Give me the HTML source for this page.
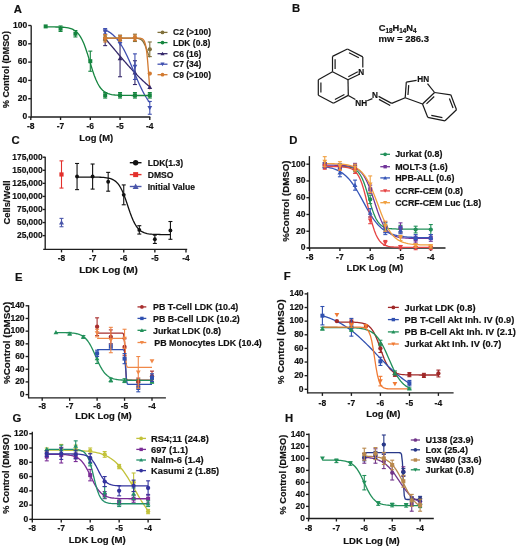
<!DOCTYPE html>
<html><head><meta charset="utf-8"><style>
html,body{margin:0;padding:0;background:#fff;}
svg{display:block;filter:blur(0.35px);}
text{font-family:"Liberation Sans",sans-serif;font-weight:bold;fill:#111;stroke:#111;stroke-width:0.18px;paint-order:stroke;}
</style></head><body>
<svg width="520" height="551" viewBox="0 0 520 551">
<rect width="520" height="551" fill="#fff"/>
<text x="13.7" y="13" font-size="11.3">A</text>
<text x="291.9" y="12" font-size="11.3">B</text>
<text x="11.4" y="143.6" font-size="11.3">C</text>
<text x="289.3" y="143.6" font-size="11.3">D</text>
<text x="14.9" y="281.4" font-size="11.3">E</text>
<text x="283.7" y="280.3" font-size="11.3">F</text>
<text x="12.4" y="421.8" font-size="11.3">G</text>
<text x="284.9" y="421.6" font-size="11.3">H</text>
<line x1="31.2" y1="25.5" x2="31.2" y2="117.65" stroke="#1e1e1e" stroke-width="1.35"/>
<line x1="31.2" y1="117" x2="150.3" y2="117" stroke="#1e1e1e" stroke-width="1.35"/>
<line x1="28.2" y1="117" x2="31.2" y2="117" stroke="#1e1e1e" stroke-width="1.35"/>
<text x="27.2" y="119.3" font-size="8.5" text-anchor="end">0</text>
<line x1="28.2" y1="98.7" x2="31.2" y2="98.7" stroke="#1e1e1e" stroke-width="1.35"/>
<text x="27.2" y="101" font-size="8.5" text-anchor="end">20</text>
<line x1="28.2" y1="80.4" x2="31.2" y2="80.4" stroke="#1e1e1e" stroke-width="1.35"/>
<text x="27.2" y="82.7" font-size="8.5" text-anchor="end">40</text>
<line x1="28.2" y1="62.1" x2="31.2" y2="62.1" stroke="#1e1e1e" stroke-width="1.35"/>
<text x="27.2" y="64.4" font-size="8.5" text-anchor="end">60</text>
<line x1="28.2" y1="43.8" x2="31.2" y2="43.8" stroke="#1e1e1e" stroke-width="1.35"/>
<text x="27.2" y="46.1" font-size="8.5" text-anchor="end">80</text>
<line x1="28.2" y1="25.5" x2="31.2" y2="25.5" stroke="#1e1e1e" stroke-width="1.35"/>
<text x="27.2" y="27.8" font-size="8.5" text-anchor="end">100</text>
<line x1="30.8" y1="117" x2="30.8" y2="120" stroke="#1e1e1e" stroke-width="1.35"/>
<text x="30.8" y="128.8" font-size="8.5" text-anchor="middle">-8</text>
<line x1="60.55" y1="117" x2="60.55" y2="120" stroke="#1e1e1e" stroke-width="1.35"/>
<text x="60.55" y="128.8" font-size="8.5" text-anchor="middle">-7</text>
<line x1="90.3" y1="117" x2="90.3" y2="120" stroke="#1e1e1e" stroke-width="1.35"/>
<text x="90.3" y="128.8" font-size="8.5" text-anchor="middle">-6</text>
<line x1="120.05" y1="117" x2="120.05" y2="120" stroke="#1e1e1e" stroke-width="1.35"/>
<text x="120.05" y="128.8" font-size="8.5" text-anchor="middle">-5</text>
<line x1="149.8" y1="117" x2="149.8" y2="120" stroke="#1e1e1e" stroke-width="1.35"/>
<text x="149.8" y="128.8" font-size="8.5" text-anchor="middle">-4</text>
<text x="96.2" y="141.2" font-size="9.4" text-anchor="middle">Log (M)</text>
<text transform="translate(9 69.5) rotate(-90)" font-size="8.9" text-anchor="middle">% Control (DMSO)</text>
<path d="M105.17 38.48 L105.92 39.35 L106.66 40.22 L107.41 41.09 L108.15 41.97 L108.89 42.84 L109.64 43.72 L110.38 44.61 L111.12 45.49 L111.87 46.38 L112.61 47.26 L113.36 48.15 L114.1 49.04 L114.84 49.92 L115.59 50.81 L116.33 51.7 L117.08 52.58 L117.82 53.47 L118.56 54.35 L119.31 55.23 L120.05 56.11 L120.79 56.98 L121.54 57.86 L122.28 58.73 L123.02 59.6 L123.77 60.46 L124.51 61.32 L125.26 62.18 L126 63.03 L126.74 63.88 L127.49 64.72 L128.23 65.56 L128.97 66.39 L129.72 67.22 L130.46 68.04 L131.21 68.85 L131.95 69.66 L132.69 70.47 L133.44 71.26 L134.18 72.05 L134.93 72.83 L135.67 73.61 L136.41 74.38 L137.16 75.14 L137.9 75.89 L138.64 76.64 L139.39 77.37 L140.13 78.1 L140.88 78.82 L141.62 79.54 L142.36 80.24 L143.11 80.94 L143.85 81.63 L144.59 82.3 L145.34 82.98 L146.08 83.64 L146.83 84.29 L147.57 84.94 L148.31 85.57 L149.06 86.2 L149.8 86.82" fill="none" stroke="#34286a" stroke-width="1.3" stroke-linejoin="round"/>
<path d="M105.17 29.91 L105.92 30.24 L106.66 30.6 L107.41 30.99 L108.15 31.41 L108.89 31.85 L109.64 32.33 L110.38 32.83 L111.12 33.38 L111.87 33.95 L112.61 34.57 L113.36 35.22 L114.1 35.92 L114.84 36.66 L115.59 37.44 L116.33 38.28 L117.08 39.15 L117.82 40.08 L118.56 41.06 L119.31 42.09 L120.05 43.17 L120.79 44.3 L121.54 45.49 L122.28 46.73 L123.02 48.03 L123.77 49.37 L124.51 50.77 L125.26 52.21 L126 53.71 L126.74 55.25 L127.49 56.83 L128.23 58.45 L128.97 60.1 L129.72 61.79 L130.46 63.5 L131.21 65.24 L131.95 67 L132.69 68.76 L133.44 70.54 L134.18 72.32 L134.93 74.09 L135.67 75.86 L136.41 77.61 L137.16 79.34 L137.9 81.05 L138.64 82.73 L139.39 84.38 L140.13 85.99 L140.88 87.57 L141.62 89.1 L142.36 90.58 L143.11 92.02 L143.85 93.4 L144.59 94.74 L145.34 96.02 L146.08 97.25 L146.83 98.43 L147.57 99.55 L148.31 100.62 L149.06 101.64 L149.8 102.61" fill="none" stroke="#4050b0" stroke-width="1.3" stroke-linejoin="round"/>
<path d="M105.17 38.04 L105.92 38.04 L106.66 38.04 L107.41 38.04 L108.15 38.04 L108.89 38.04 L109.64 38.04 L110.38 38.04 L111.12 38.04 L111.87 38.04 L112.61 38.04 L113.36 38.04 L114.1 38.04 L114.84 38.04 L115.59 38.04 L116.33 38.04 L117.08 38.04 L117.82 38.04 L118.56 38.04 L119.31 38.04 L120.05 38.04 L120.79 38.04 L121.54 38.04 L122.28 38.04 L123.02 38.04 L123.77 38.04 L124.51 38.04 L125.26 38.04 L126 38.04 L126.74 38.04 L127.49 38.04 L128.23 38.04 L128.97 38.04 L129.72 38.04 L130.46 38.05 L131.21 38.05 L131.95 38.06 L132.69 38.07 L133.44 38.08 L134.18 38.1 L134.93 38.13 L135.67 38.17 L136.41 38.23 L137.16 38.3 L137.9 38.41 L138.64 38.56 L139.39 38.77 L140.13 39.06 L140.88 39.46 L141.62 40 L142.36 40.73 L143.11 41.67 L143.85 42.87 L144.59 44.34 L145.34 46.07 L146.08 48.01 L146.83 50.07 L147.57 52.13 L148.31 54.07 L149.06 55.8 L149.8 57.27" fill="none" stroke="#80703c" stroke-width="1.3" stroke-linejoin="round"/>
<path d="M105.17 38.04 L105.92 38.04 L106.66 38.04 L107.41 38.04 L108.15 38.04 L108.89 38.04 L109.64 38.04 L110.38 38.04 L111.12 38.04 L111.87 38.04 L112.61 38.04 L113.36 38.04 L114.1 38.04 L114.84 38.04 L115.59 38.04 L116.33 38.04 L117.08 38.04 L117.82 38.04 L118.56 38.04 L119.31 38.04 L120.05 38.04 L120.79 38.04 L121.54 38.04 L122.28 38.04 L123.02 38.04 L123.77 38.04 L124.51 38.04 L125.26 38.04 L126 38.04 L126.74 38.04 L127.49 38.04 L128.23 38.04 L128.97 38.04 L129.72 38.04 L130.46 38.04 L131.21 38.04 L131.95 38.04 L132.69 38.04 L133.44 38.04 L134.18 38.04 L134.93 38.04 L135.67 38.04 L136.41 38.05 L137.16 38.06 L137.9 38.07 L138.64 38.1 L139.39 38.14 L140.13 38.21 L140.88 38.33 L141.62 38.52 L142.36 38.85 L143.11 39.4 L143.85 40.3 L144.59 41.76 L145.34 44.1 L146.08 47.71 L146.83 53.03 L147.57 60.34 L148.31 69.45 L149.06 79.56 L149.8 89.41" fill="none" stroke="#d27a30" stroke-width="1.3" stroke-linejoin="round"/>
<path d="M45.67 26.89 L47.41 26.89 L49.15 26.9 L50.88 26.91 L52.62 26.92 L54.35 26.95 L56.09 26.98 L57.82 27.02 L59.56 27.07 L61.29 27.15 L63.03 27.26 L64.76 27.42 L66.5 27.63 L68.24 27.93 L69.97 28.35 L71.71 28.92 L73.44 29.7 L75.18 30.77 L76.91 32.2 L78.65 34.1 L80.38 36.58 L82.12 39.72 L83.85 43.6 L85.59 48.2 L87.33 53.42 L89.06 59.05 L90.8 64.79 L92.53 70.34 L94.27 75.42 L96 79.84 L97.74 83.52 L99.47 86.49 L101.21 88.81 L102.94 90.58 L104.68 91.91 L106.41 92.89 L108.15 93.62 L109.89 94.14 L111.62 94.52 L113.36 94.8 L115.09 95 L116.83 95.14 L118.56 95.24 L120.3 95.31 L122.03 95.37 L123.77 95.4 L125.5 95.43 L127.24 95.45 L128.97 95.46 L130.71 95.47 L132.45 95.48 L134.18 95.48 L135.92 95.49 L137.65 95.49 L139.39 95.49 L141.12 95.49 L142.86 95.5 L144.59 95.5 L146.33 95.5 L148.06 95.5 L149.8 95.5" fill="none" stroke="#15853f" stroke-width="1.3" stroke-linejoin="round"/>
<line x1="105.17" y1="30.99" x2="105.17" y2="45.63" stroke="#34286a" stroke-width="1.1"/>
<line x1="103.17" y1="30.99" x2="107.17" y2="30.99" stroke="#34286a" stroke-width="1.1"/>
<line x1="103.17" y1="45.63" x2="107.17" y2="45.63" stroke="#34286a" stroke-width="1.1"/>
<path d="M105.17 36.01L107.58 40.21L102.77 40.21Z" fill="#34286a"/>
<line x1="120.05" y1="40.14" x2="120.05" y2="76.74" stroke="#34286a" stroke-width="1.1"/>
<line x1="118.05" y1="40.14" x2="122.05" y2="40.14" stroke="#34286a" stroke-width="1.1"/>
<line x1="118.05" y1="76.74" x2="122.05" y2="76.74" stroke="#34286a" stroke-width="1.1"/>
<path d="M120.05 56.14L122.45 60.34L117.65 60.34Z" fill="#34286a"/>
<line x1="134.93" y1="60.73" x2="134.93" y2="84.52" stroke="#34286a" stroke-width="1.1"/>
<line x1="132.93" y1="60.73" x2="136.93" y2="60.73" stroke="#34286a" stroke-width="1.1"/>
<line x1="132.93" y1="84.52" x2="136.93" y2="84.52" stroke="#34286a" stroke-width="1.1"/>
<path d="M134.93 70.32L137.33 74.52L132.53 74.52Z" fill="#34286a"/>
<path d="M149.8 84.87L152.2 89.07L147.4 89.07Z" fill="#34286a"/>
<line x1="105.17" y1="28.52" x2="105.17" y2="34.01" stroke="#4050b0" stroke-width="1.1"/>
<line x1="103.17" y1="28.52" x2="107.17" y2="28.52" stroke="#4050b0" stroke-width="1.1"/>
<line x1="103.17" y1="34.01" x2="107.17" y2="34.01" stroke="#4050b0" stroke-width="1.1"/>
<path d="M105.17 33.56L107.58 29.36L102.77 29.36Z" fill="#4050b0"/>
<path d="M120.05 46.1L122.45 41.9L117.65 41.9Z" fill="#4050b0"/>
<line x1="134.93" y1="53.86" x2="134.93" y2="79.48" stroke="#4050b0" stroke-width="1.1"/>
<line x1="132.93" y1="53.86" x2="136.93" y2="53.86" stroke="#4050b0" stroke-width="1.1"/>
<line x1="132.93" y1="79.48" x2="136.93" y2="79.48" stroke="#4050b0" stroke-width="1.1"/>
<path d="M134.93 68.97L137.33 64.77L132.53 64.77Z" fill="#4050b0"/>
<line x1="149.8" y1="101.44" x2="149.8" y2="114.25" stroke="#4050b0" stroke-width="1.1"/>
<line x1="147.8" y1="101.44" x2="151.8" y2="101.44" stroke="#4050b0" stroke-width="1.1"/>
<line x1="147.8" y1="114.25" x2="151.8" y2="114.25" stroke="#4050b0" stroke-width="1.1"/>
<path d="M149.8 110.15L152.2 105.95L147.4 105.95Z" fill="#4050b0"/>
<line x1="105.17" y1="35.11" x2="105.17" y2="40.6" stroke="#80703c" stroke-width="1.1"/>
<line x1="103.17" y1="35.11" x2="107.17" y2="35.11" stroke="#80703c" stroke-width="1.1"/>
<line x1="103.17" y1="40.6" x2="107.17" y2="40.6" stroke="#80703c" stroke-width="1.1"/>
<circle cx="105.17" cy="37.85" r="2.16" fill="#80703c"/>
<line x1="120.05" y1="35.11" x2="120.05" y2="40.6" stroke="#80703c" stroke-width="1.1"/>
<line x1="118.05" y1="35.11" x2="122.05" y2="35.11" stroke="#80703c" stroke-width="1.1"/>
<line x1="118.05" y1="40.6" x2="122.05" y2="40.6" stroke="#80703c" stroke-width="1.1"/>
<circle cx="120.05" cy="37.85" r="2.16" fill="#80703c"/>
<line x1="134.93" y1="34.19" x2="134.93" y2="41.51" stroke="#80703c" stroke-width="1.1"/>
<line x1="132.93" y1="34.19" x2="136.93" y2="34.19" stroke="#80703c" stroke-width="1.1"/>
<line x1="132.93" y1="41.51" x2="136.93" y2="41.51" stroke="#80703c" stroke-width="1.1"/>
<circle cx="134.93" cy="37.85" r="2.16" fill="#80703c"/>
<line x1="149.8" y1="41.97" x2="149.8" y2="56.61" stroke="#80703c" stroke-width="1.1"/>
<line x1="147.8" y1="41.97" x2="151.8" y2="41.97" stroke="#80703c" stroke-width="1.1"/>
<line x1="147.8" y1="56.61" x2="151.8" y2="56.61" stroke="#80703c" stroke-width="1.1"/>
<circle cx="149.8" cy="49.29" r="2.16" fill="#80703c"/>
<line x1="105.17" y1="34.65" x2="105.17" y2="41.97" stroke="#d27a30" stroke-width="1.1"/>
<line x1="103.17" y1="34.65" x2="107.17" y2="34.65" stroke="#d27a30" stroke-width="1.1"/>
<line x1="103.17" y1="41.97" x2="107.17" y2="41.97" stroke="#d27a30" stroke-width="1.1"/>
<circle cx="105.17" cy="38.31" r="2.16" fill="#d27a30"/>
<line x1="120.05" y1="35.56" x2="120.05" y2="41.05" stroke="#d27a30" stroke-width="1.1"/>
<line x1="118.05" y1="35.56" x2="122.05" y2="35.56" stroke="#d27a30" stroke-width="1.1"/>
<line x1="118.05" y1="41.05" x2="122.05" y2="41.05" stroke="#d27a30" stroke-width="1.1"/>
<circle cx="120.05" cy="38.31" r="2.16" fill="#d27a30"/>
<line x1="134.93" y1="35.11" x2="134.93" y2="40.6" stroke="#d27a30" stroke-width="1.1"/>
<line x1="132.93" y1="35.11" x2="136.93" y2="35.11" stroke="#d27a30" stroke-width="1.1"/>
<line x1="132.93" y1="40.6" x2="136.93" y2="40.6" stroke="#d27a30" stroke-width="1.1"/>
<circle cx="134.93" cy="37.85" r="2.16" fill="#d27a30"/>
<circle cx="149.8" cy="73.54" r="2.16" fill="#d27a30"/>
<rect x="43.67" y="24.41" width="4" height="4" fill="#15853f"/>
<line x1="60.55" y1="25.96" x2="60.55" y2="31.45" stroke="#15853f" stroke-width="1.1"/>
<line x1="58.55" y1="25.96" x2="62.55" y2="25.96" stroke="#15853f" stroke-width="1.1"/>
<line x1="58.55" y1="31.45" x2="62.55" y2="31.45" stroke="#15853f" stroke-width="1.1"/>
<rect x="58.55" y="26.7" width="4" height="4" fill="#15853f"/>
<line x1="75.42" y1="30.53" x2="75.42" y2="36.94" stroke="#15853f" stroke-width="1.1"/>
<line x1="73.42" y1="30.53" x2="77.42" y2="30.53" stroke="#15853f" stroke-width="1.1"/>
<line x1="73.42" y1="36.94" x2="77.42" y2="36.94" stroke="#15853f" stroke-width="1.1"/>
<rect x="73.42" y="31.73" width="4" height="4" fill="#15853f"/>
<line x1="90.3" y1="51.12" x2="90.3" y2="71.25" stroke="#15853f" stroke-width="1.1"/>
<line x1="88.3" y1="51.12" x2="92.3" y2="51.12" stroke="#15853f" stroke-width="1.1"/>
<line x1="88.3" y1="71.25" x2="92.3" y2="71.25" stroke="#15853f" stroke-width="1.1"/>
<rect x="88.3" y="59.18" width="4" height="4" fill="#15853f"/>
<line x1="105.17" y1="92.57" x2="105.17" y2="98.06" stroke="#15853f" stroke-width="1.1"/>
<line x1="103.17" y1="92.57" x2="107.17" y2="92.57" stroke="#15853f" stroke-width="1.1"/>
<line x1="103.17" y1="98.06" x2="107.17" y2="98.06" stroke="#15853f" stroke-width="1.1"/>
<rect x="103.17" y="93.31" width="4" height="4" fill="#15853f"/>
<line x1="120.05" y1="92.57" x2="120.05" y2="98.06" stroke="#15853f" stroke-width="1.1"/>
<line x1="118.05" y1="92.57" x2="122.05" y2="92.57" stroke="#15853f" stroke-width="1.1"/>
<line x1="118.05" y1="98.06" x2="122.05" y2="98.06" stroke="#15853f" stroke-width="1.1"/>
<rect x="118.05" y="93.31" width="4" height="4" fill="#15853f"/>
<line x1="134.93" y1="92.57" x2="134.93" y2="98.06" stroke="#15853f" stroke-width="1.1"/>
<line x1="132.93" y1="92.57" x2="136.93" y2="92.57" stroke="#15853f" stroke-width="1.1"/>
<line x1="132.93" y1="98.06" x2="136.93" y2="98.06" stroke="#15853f" stroke-width="1.1"/>
<rect x="132.93" y="93.31" width="4" height="4" fill="#15853f"/>
<line x1="149.8" y1="92.57" x2="149.8" y2="98.06" stroke="#15853f" stroke-width="1.1"/>
<line x1="147.8" y1="92.57" x2="151.8" y2="92.57" stroke="#15853f" stroke-width="1.1"/>
<line x1="147.8" y1="98.06" x2="151.8" y2="98.06" stroke="#15853f" stroke-width="1.1"/>
<rect x="147.8" y="93.31" width="4" height="4" fill="#15853f"/>
<line x1="157.5" y1="32.4" x2="167.5" y2="32.4" stroke="#80703c" stroke-width="1.3"/>
<circle cx="162.5" cy="32.4" r="1.84" fill="#80703c"/>
<text x="173" y="35.46" font-size="8.5">C2 (&gt;100)</text>
<line x1="157.5" y1="42.6" x2="167.5" y2="42.6" stroke="#15853f" stroke-width="1.3"/>
<circle cx="162.5" cy="42.6" r="1.84" fill="#15853f"/>
<text x="173" y="45.66" font-size="8.5">LDK (0.8)</text>
<line x1="157.5" y1="53.7" x2="167.5" y2="53.7" stroke="#34286a" stroke-width="1.3"/>
<path d="M162.5 51.75L164.54 55.32L160.46 55.32Z" fill="#34286a"/>
<text x="173" y="56.76" font-size="8.5">C6 (16)</text>
<line x1="157.5" y1="64.2" x2="167.5" y2="64.2" stroke="#4050b0" stroke-width="1.3"/>
<path d="M162.5 66.16L164.54 62.59L160.46 62.59Z" fill="#4050b0"/>
<text x="173" y="67.26" font-size="8.5">C7 (34)</text>
<line x1="157.5" y1="74.7" x2="167.5" y2="74.7" stroke="#d27a30" stroke-width="1.3"/>
<circle cx="162.5" cy="74.7" r="1.84" fill="#d27a30"/>
<text x="173" y="77.76" font-size="8.5">C9 (&gt;100)</text>
<text x="378.7" y="31.2" font-size="9.3">C<tspan font-size="6.4" dy="1.9">18</tspan><tspan dy="-1.9">H</tspan><tspan font-size="6.4" dy="1.9">14</tspan><tspan dy="-1.9">N</tspan><tspan font-size="6.4" dy="1.9">4</tspan></text>
<text x="378.5" y="41.9" font-size="9.5">mw = 286.3</text>
<line x1="347.4" y1="49" x2="362.8" y2="56.9" stroke="#1a1a1a" stroke-width="1.2"/>
<line x1="362.8" y1="56.9" x2="362.8" y2="67.6" stroke="#1a1a1a" stroke-width="1.2"/>
<line x1="359.4" y1="74.2" x2="348" y2="79.8" stroke="#1a1a1a" stroke-width="1.2"/>
<line x1="348" y1="79.8" x2="332.5" y2="71.8" stroke="#1a1a1a" stroke-width="1.2"/>
<line x1="332.5" y1="71.8" x2="332.5" y2="56.4" stroke="#1a1a1a" stroke-width="1.2"/>
<line x1="332.5" y1="56.4" x2="347.4" y2="49" stroke="#1a1a1a" stroke-width="1.2"/>
<line x1="348.99" y1="52.74" x2="358.84" y2="57.79" stroke="#1a1a1a" stroke-width="1.2"/>
<line x1="335.1" y1="59.17" x2="335.1" y2="69.03" stroke="#1a1a1a" stroke-width="1.2"/>
<line x1="357.79" y1="71.69" x2="348.29" y2="76.71" stroke="#1a1a1a" stroke-width="1.2"/>
<text x="361.2" y="74.6" font-size="8.2" text-anchor="middle">N</text>
<line x1="348" y1="79.8" x2="348.3" y2="95.4" stroke="#1a1a1a" stroke-width="1.2"/>
<line x1="348.3" y1="95.4" x2="333.4" y2="103.2" stroke="#1a1a1a" stroke-width="1.2"/>
<line x1="333.4" y1="103.2" x2="318.3" y2="95.2" stroke="#1a1a1a" stroke-width="1.2"/>
<line x1="318.3" y1="95.2" x2="318.3" y2="79.8" stroke="#1a1a1a" stroke-width="1.2"/>
<line x1="318.3" y1="79.8" x2="332.5" y2="71.8" stroke="#1a1a1a" stroke-width="1.2"/>
<line x1="344.41" y1="94.5" x2="334.88" y2="99.49" stroke="#1a1a1a" stroke-width="1.2"/>
<line x1="320.9" y1="92.43" x2="320.9" y2="82.57" stroke="#1a1a1a" stroke-width="1.2"/>
<line x1="348.3" y1="95.4" x2="355.4" y2="99.6" stroke="#1a1a1a" stroke-width="1.2"/>
<text x="361.2" y="106" font-size="8.2" text-anchor="middle">NH</text>
<line x1="367.2" y1="100.8" x2="372.4" y2="98.6" stroke="#1a1a1a" stroke-width="1.2"/>
<text x="375" y="97.8" font-size="8.2" text-anchor="middle">N</text>
<line x1="378.6" y1="96.4" x2="391.7" y2="103.4" stroke="#1a1a1a" stroke-width="1.2"/>
<line x1="379" y1="99.4" x2="390.2" y2="105.5" stroke="#1a1a1a" stroke-width="1.2"/>
<line x1="391.7" y1="103.4" x2="405.2" y2="97.7" stroke="#1a1a1a" stroke-width="1.2"/>
<line x1="405.2" y1="97.7" x2="406.3" y2="82.1" stroke="#1a1a1a" stroke-width="1.2"/>
<line x1="406.3" y1="82.1" x2="416.6" y2="80.4" stroke="#1a1a1a" stroke-width="1.2"/>
<line x1="427.5" y1="83.6" x2="434.6" y2="92.5" stroke="#1a1a1a" stroke-width="1.2"/>
<line x1="434.6" y1="92.5" x2="422.5" y2="104" stroke="#1a1a1a" stroke-width="1.2"/>
<line x1="422.5" y1="104" x2="405.2" y2="97.7" stroke="#1a1a1a" stroke-width="1.2"/>
<line x1="407.99" y1="95.07" x2="408.7" y2="85.09" stroke="#1a1a1a" stroke-width="1.2"/>
<text x="423.2" y="82.2" font-size="8.2" text-anchor="middle">HN</text>
<line x1="434.6" y1="92.5" x2="450.8" y2="94.8" stroke="#1a1a1a" stroke-width="1.2"/>
<line x1="450.8" y1="94.8" x2="456.5" y2="109.8" stroke="#1a1a1a" stroke-width="1.2"/>
<line x1="456.5" y1="109.8" x2="445" y2="120.8" stroke="#1a1a1a" stroke-width="1.2"/>
<line x1="445" y1="120.8" x2="427.7" y2="117.3" stroke="#1a1a1a" stroke-width="1.2"/>
<line x1="427.7" y1="117.3" x2="422.5" y2="104" stroke="#1a1a1a" stroke-width="1.2"/>
<line x1="449.4" y1="98.42" x2="453.04" y2="108.02" stroke="#1a1a1a" stroke-width="1.2"/>
<line x1="442.4" y1="117.62" x2="431.33" y2="115.38" stroke="#1a1a1a" stroke-width="1.2"/>
<line x1="434.21" y1="96.45" x2="426.47" y2="103.81" stroke="#1a1a1a" stroke-width="1.2"/>
<line x1="45.2" y1="156.7" x2="45.2" y2="250.05" stroke="#1e1e1e" stroke-width="1.35"/>
<line x1="43.2" y1="249.4" x2="187.2" y2="249.4" stroke="#1e1e1e" stroke-width="1.35"/>
<line x1="42.7" y1="235.63" x2="45.2" y2="235.63" stroke="#1e1e1e" stroke-width="1.35"/>
<text x="42.6" y="237.93" font-size="8.4" text-anchor="end">25,000</text>
<line x1="42.7" y1="222.56" x2="45.2" y2="222.56" stroke="#1e1e1e" stroke-width="1.35"/>
<text x="42.6" y="224.86" font-size="8.4" text-anchor="end">50,000</text>
<line x1="42.7" y1="209.49" x2="45.2" y2="209.49" stroke="#1e1e1e" stroke-width="1.35"/>
<text x="42.6" y="211.79" font-size="8.4" text-anchor="end">75,000</text>
<line x1="42.7" y1="196.42" x2="45.2" y2="196.42" stroke="#1e1e1e" stroke-width="1.35"/>
<text x="42.6" y="198.72" font-size="8.4" text-anchor="end">100,000</text>
<line x1="42.7" y1="183.35" x2="45.2" y2="183.35" stroke="#1e1e1e" stroke-width="1.35"/>
<text x="42.6" y="185.65" font-size="8.4" text-anchor="end">125,000</text>
<line x1="42.7" y1="170.28" x2="45.2" y2="170.28" stroke="#1e1e1e" stroke-width="1.35"/>
<text x="42.6" y="172.58" font-size="8.4" text-anchor="end">150,000</text>
<line x1="42.7" y1="157.21" x2="45.2" y2="157.21" stroke="#1e1e1e" stroke-width="1.35"/>
<text x="42.6" y="159.51" font-size="8.4" text-anchor="end">175,000</text>
<line x1="61.5" y1="249.4" x2="61.5" y2="252.4" stroke="#1e1e1e" stroke-width="1.35"/>
<text x="61.5" y="261.2" font-size="8.4" text-anchor="middle">-8</text>
<line x1="92.62" y1="249.4" x2="92.62" y2="252.4" stroke="#1e1e1e" stroke-width="1.35"/>
<text x="92.62" y="261.2" font-size="8.4" text-anchor="middle">-7</text>
<line x1="123.74" y1="249.4" x2="123.74" y2="252.4" stroke="#1e1e1e" stroke-width="1.35"/>
<text x="123.74" y="261.2" font-size="8.4" text-anchor="middle">-6</text>
<line x1="154.86" y1="249.4" x2="154.86" y2="252.4" stroke="#1e1e1e" stroke-width="1.35"/>
<text x="154.86" y="261.2" font-size="8.4" text-anchor="middle">-5</text>
<line x1="185.98" y1="249.4" x2="185.98" y2="252.4" stroke="#1e1e1e" stroke-width="1.35"/>
<text x="185.98" y="261.2" font-size="8.4" text-anchor="middle">-4</text>
<text x="108.5" y="273" font-size="9.9" text-anchor="middle">LDK Log (M)</text>
<text transform="translate(10 202.5) rotate(-90)" font-size="9.4" text-anchor="middle">Cells/Well</text>
<path d="M77.06 177.08 L78.62 177.08 L80.17 177.08 L81.73 177.08 L83.28 177.08 L84.84 177.08 L86.4 177.09 L87.95 177.09 L89.51 177.1 L91.06 177.1 L92.62 177.12 L94.18 177.13 L95.73 177.15 L97.29 177.18 L98.84 177.22 L100.4 177.27 L101.96 177.35 L103.51 177.45 L105.07 177.59 L106.62 177.78 L108.18 178.05 L109.74 178.41 L111.29 178.9 L112.85 179.57 L114.4 180.46 L115.96 181.64 L117.52 183.2 L119.07 185.2 L120.63 187.72 L122.18 190.8 L123.74 194.44 L125.3 198.58 L126.85 203.06 L128.41 207.68 L129.96 212.21 L131.52 216.43 L133.08 220.18 L134.63 223.38 L136.19 226 L137.74 228.1 L139.3 229.74 L140.86 230.99 L142.41 231.93 L143.97 232.64 L145.52 233.16 L147.08 233.55 L148.64 233.83 L150.19 234.04 L151.75 234.19 L153.3 234.29 L154.86 234.37 L156.42 234.43 L157.97 234.47 L159.53 234.5 L161.08 234.53 L162.64 234.54 L164.2 234.55 L165.75 234.56 L167.31 234.57 L168.86 234.57 L170.42 234.58" fill="none" stroke="#111" stroke-width="1.3" stroke-linejoin="round"/>
<line x1="77.06" y1="163.48" x2="77.06" y2="189.62" stroke="#111" stroke-width="1.1"/>
<line x1="75.06" y1="163.48" x2="79.06" y2="163.48" stroke="#111" stroke-width="1.1"/>
<line x1="75.06" y1="189.62" x2="79.06" y2="189.62" stroke="#111" stroke-width="1.1"/>
<circle cx="77.06" cy="176.55" r="1.94" fill="#111"/>
<line x1="92.62" y1="164.01" x2="92.62" y2="189.1" stroke="#111" stroke-width="1.1"/>
<line x1="90.62" y1="164.01" x2="94.62" y2="164.01" stroke="#111" stroke-width="1.1"/>
<line x1="90.62" y1="189.1" x2="94.62" y2="189.1" stroke="#111" stroke-width="1.1"/>
<circle cx="92.62" cy="176.55" r="1.94" fill="#111"/>
<line x1="108.18" y1="172.37" x2="108.18" y2="191.19" stroke="#111" stroke-width="1.1"/>
<line x1="106.18" y1="172.37" x2="110.18" y2="172.37" stroke="#111" stroke-width="1.1"/>
<line x1="106.18" y1="191.19" x2="110.18" y2="191.19" stroke="#111" stroke-width="1.1"/>
<circle cx="108.18" cy="181.78" r="1.94" fill="#111"/>
<line x1="123.74" y1="184.92" x2="123.74" y2="204.78" stroke="#111" stroke-width="1.1"/>
<line x1="121.74" y1="184.92" x2="125.74" y2="184.92" stroke="#111" stroke-width="1.1"/>
<line x1="121.74" y1="204.78" x2="125.74" y2="204.78" stroke="#111" stroke-width="1.1"/>
<circle cx="123.74" cy="194.85" r="1.94" fill="#111"/>
<line x1="139.3" y1="225.7" x2="139.3" y2="234.06" stroke="#111" stroke-width="1.1"/>
<line x1="137.3" y1="225.7" x2="141.3" y2="225.7" stroke="#111" stroke-width="1.1"/>
<line x1="137.3" y1="234.06" x2="141.3" y2="234.06" stroke="#111" stroke-width="1.1"/>
<circle cx="139.3" cy="229.88" r="1.94" fill="#111"/>
<line x1="154.86" y1="235.11" x2="154.86" y2="243.47" stroke="#111" stroke-width="1.1"/>
<line x1="152.86" y1="235.11" x2="156.86" y2="235.11" stroke="#111" stroke-width="1.1"/>
<line x1="152.86" y1="243.47" x2="156.86" y2="243.47" stroke="#111" stroke-width="1.1"/>
<circle cx="154.86" cy="239.29" r="1.94" fill="#111"/>
<line x1="170.42" y1="221.51" x2="170.42" y2="239.29" stroke="#111" stroke-width="1.1"/>
<line x1="168.42" y1="221.51" x2="172.42" y2="221.51" stroke="#111" stroke-width="1.1"/>
<line x1="168.42" y1="239.29" x2="172.42" y2="239.29" stroke="#111" stroke-width="1.1"/>
<circle cx="170.42" cy="230.4" r="1.94" fill="#111"/>
<line x1="61.5" y1="160.87" x2="61.5" y2="188.06" stroke="#e3302c" stroke-width="1.1"/>
<line x1="59.5" y1="160.87" x2="63.5" y2="160.87" stroke="#e3302c" stroke-width="1.1"/>
<line x1="59.5" y1="188.06" x2="63.5" y2="188.06" stroke="#e3302c" stroke-width="1.1"/>
<rect x="59.4" y="172.36" width="4.2" height="4.2" fill="#e3302c"/>
<line x1="61.5" y1="218.38" x2="61.5" y2="226.74" stroke="#4a56aa" stroke-width="1.1"/>
<line x1="59.5" y1="218.38" x2="63.5" y2="218.38" stroke="#4a56aa" stroke-width="1.1"/>
<line x1="59.5" y1="226.74" x2="63.5" y2="226.74" stroke="#4a56aa" stroke-width="1.1"/>
<path d="M61.5 220.15L64.02 224.56L58.98 224.56Z" fill="#4a56aa"/>
<line x1="129.8" y1="162.7" x2="141.5" y2="162.7" stroke="#111" stroke-width="1.4"/>
<circle cx="135.65" cy="162.7" r="2.7" fill="#111"/>
<text x="147.7" y="165.8" font-size="8.6">LDK(1.3)</text>
<line x1="129.8" y1="174.6" x2="141.5" y2="174.6" stroke="#e3302c" stroke-width="1.4"/>
<rect x="133.15" y="172.1" width="5" height="5" fill="#e3302c"/>
<text x="147.7" y="177.7" font-size="8.6">DMSO</text>
<line x1="129.8" y1="186.5" x2="141.5" y2="186.5" stroke="#4a56aa" stroke-width="1.4"/>
<path d="M135.65 183.62L138.65 188.88L132.65 188.88Z" fill="#4a56aa"/>
<text x="147.7" y="189.6" font-size="8.6">Initial Value</text>
<line x1="309.4" y1="156.1" x2="309.4" y2="248.65" stroke="#1e1e1e" stroke-width="1.35"/>
<line x1="307.5" y1="248" x2="445.5" y2="248" stroke="#1e1e1e" stroke-width="1.35"/>
<line x1="306.4" y1="248" x2="309.4" y2="248" stroke="#1e1e1e" stroke-width="1.35"/>
<text x="305.4" y="250.3" font-size="8.5" text-anchor="end">0</text>
<line x1="306.4" y1="231.24" x2="309.4" y2="231.24" stroke="#1e1e1e" stroke-width="1.35"/>
<text x="305.4" y="233.54" font-size="8.5" text-anchor="end">20</text>
<line x1="306.4" y1="214.48" x2="309.4" y2="214.48" stroke="#1e1e1e" stroke-width="1.35"/>
<text x="305.4" y="216.78" font-size="8.5" text-anchor="end">40</text>
<line x1="306.4" y1="197.72" x2="309.4" y2="197.72" stroke="#1e1e1e" stroke-width="1.35"/>
<text x="305.4" y="200.02" font-size="8.5" text-anchor="end">60</text>
<line x1="306.4" y1="180.96" x2="309.4" y2="180.96" stroke="#1e1e1e" stroke-width="1.35"/>
<text x="305.4" y="183.26" font-size="8.5" text-anchor="end">80</text>
<line x1="306.4" y1="164.2" x2="309.4" y2="164.2" stroke="#1e1e1e" stroke-width="1.35"/>
<text x="305.4" y="166.5" font-size="8.5" text-anchor="end">100</text>
<line x1="309.6" y1="248" x2="309.6" y2="251" stroke="#1e1e1e" stroke-width="1.35"/>
<text x="309.6" y="259.5" font-size="8.5" text-anchor="middle">-8</text>
<line x1="339.9" y1="248" x2="339.9" y2="251" stroke="#1e1e1e" stroke-width="1.35"/>
<text x="339.9" y="259.5" font-size="8.5" text-anchor="middle">-7</text>
<line x1="370.2" y1="248" x2="370.2" y2="251" stroke="#1e1e1e" stroke-width="1.35"/>
<text x="370.2" y="259.5" font-size="8.5" text-anchor="middle">-6</text>
<line x1="400.5" y1="248" x2="400.5" y2="251" stroke="#1e1e1e" stroke-width="1.35"/>
<text x="400.5" y="259.5" font-size="8.5" text-anchor="middle">-5</text>
<line x1="430.8" y1="248" x2="430.8" y2="251" stroke="#1e1e1e" stroke-width="1.35"/>
<text x="430.8" y="259.5" font-size="8.5" text-anchor="middle">-4</text>
<text x="346.6" y="271.4" font-size="9.5">LDK Log (M)</text>
<text transform="translate(289 201.2) rotate(-90)" font-size="9.7" text-anchor="middle">%Control (DMSO)</text>
<path d="M324.75 166.3 L326.52 166.3 L328.29 166.3 L330.05 166.31 L331.82 166.31 L333.59 166.32 L335.36 166.34 L337.12 166.35 L338.89 166.38 L340.66 166.43 L342.43 166.49 L344.19 166.58 L345.96 166.71 L347.73 166.91 L349.5 167.2 L351.26 167.62 L353.03 168.23 L354.8 169.11 L356.56 170.36 L358.33 172.12 L360.1 174.53 L361.87 177.74 L363.63 181.84 L365.4 186.82 L367.17 192.52 L368.94 198.59 L370.71 204.6 L372.47 210.12 L374.24 214.87 L376.01 218.71 L377.78 221.67 L379.54 223.88 L381.31 225.48 L383.08 226.62 L384.85 227.41 L386.61 227.96 L388.38 228.34 L390.15 228.6 L391.92 228.77 L393.68 228.89 L395.45 228.97 L397.22 229.03 L398.99 229.07 L400.75 229.09 L402.52 229.11 L404.29 229.12 L406.06 229.13 L407.82 229.13 L409.59 229.14 L411.36 229.14 L413.12 229.14 L414.89 229.14 L416.66 229.14 L418.43 229.14 L420.2 229.14 L421.96 229.14 L423.73 229.14 L425.5 229.14 L427.26 229.14 L429.03 229.14 L430.8 229.14" fill="none" stroke="#22905a" stroke-width="1.3" stroke-linejoin="round"/>
<path d="M324.75 165.14 L326.52 165.15 L328.29 165.15 L330.05 165.17 L331.82 165.18 L333.59 165.2 L335.36 165.23 L337.12 165.26 L338.89 165.31 L340.66 165.38 L342.43 165.47 L344.19 165.59 L345.96 165.74 L347.73 165.95 L349.5 166.24 L351.26 166.61 L353.03 167.11 L354.8 167.77 L356.56 168.64 L358.33 169.77 L360.1 171.23 L361.87 173.11 L363.63 175.46 L365.4 178.38 L367.17 181.89 L368.94 186.01 L370.71 190.69 L372.47 195.8 L374.24 201.17 L376.01 206.55 L377.78 211.74 L379.54 216.53 L381.31 220.79 L383.08 224.44 L384.85 227.49 L386.61 229.97 L388.38 231.95 L390.15 233.5 L391.92 234.7 L393.68 235.62 L395.45 236.32 L397.22 236.85 L398.99 237.26 L400.75 237.56 L402.52 237.78 L404.29 237.95 L406.06 238.08 L407.82 238.17 L409.59 238.24 L411.36 238.29 L413.12 238.33 L414.89 238.36 L416.66 238.38 L418.43 238.4 L420.2 238.41 L421.96 238.42 L423.73 238.43 L425.5 238.43 L427.26 238.44 L429.03 238.44 L430.8 238.44" fill="none" stroke="#72369a" stroke-width="1.3" stroke-linejoin="round"/>
<path d="M324.75 166.83 L326.52 167.09 L328.29 167.41 L330.05 167.78 L331.82 168.23 L333.59 168.75 L335.36 169.38 L337.12 170.1 L338.89 170.96 L340.66 171.95 L342.43 173.11 L344.19 174.44 L345.96 175.97 L347.73 177.7 L349.5 179.66 L351.26 181.84 L353.03 184.25 L354.8 186.88 L356.56 189.71 L358.33 192.72 L360.1 195.86 L361.87 199.09 L363.63 202.37 L365.4 205.63 L367.17 208.83 L368.94 211.91 L370.71 214.84 L372.47 217.58 L374.24 220.11 L376.01 222.42 L377.78 224.5 L379.54 226.35 L381.31 227.99 L383.08 229.43 L384.85 230.67 L386.61 231.75 L388.38 232.68 L390.15 233.48 L391.92 234.15 L393.68 234.73 L395.45 235.22 L397.22 235.63 L398.99 235.98 L400.75 236.27 L402.52 236.51 L404.29 236.72 L406.06 236.89 L407.82 237.04 L409.59 237.16 L411.36 237.26 L413.12 237.35 L414.89 237.42 L416.66 237.48 L418.43 237.53 L420.2 237.57 L421.96 237.6 L423.73 237.63 L425.5 237.65 L427.26 237.68 L429.03 237.69 L430.8 237.71" fill="none" stroke="#3656b8" stroke-width="1.3" stroke-linejoin="round"/>
<path d="M324.75 166.55 L326.52 166.56 L328.29 166.56 L330.05 166.57 L331.82 166.58 L333.59 166.6 L335.36 166.62 L337.12 166.66 L338.89 166.71 L340.66 166.78 L342.43 166.89 L344.19 167.04 L345.96 167.27 L347.73 167.6 L349.5 168.07 L351.26 168.74 L353.03 169.7 L354.8 171.06 L356.56 172.96 L358.33 175.57 L360.1 179.05 L361.87 183.55 L363.63 189.15 L365.4 195.74 L367.17 203.04 L368.94 210.62 L370.71 217.94 L372.47 224.55 L374.24 230.18 L376.01 234.71 L377.78 238.22 L379.54 240.85 L381.31 242.77 L383.08 244.14 L384.85 245.11 L386.61 245.79 L388.38 246.27 L390.15 246.6 L391.92 246.83 L393.68 246.98 L395.45 247.09 L397.22 247.17 L398.99 247.22 L400.75 247.25 L402.52 247.28 L404.29 247.29 L406.06 247.3 L407.82 247.31 L409.59 247.32 L411.36 247.32 L413.12 247.32 L414.89 247.33 L416.66 247.33 L418.43 247.33 L420.2 247.33 L421.96 247.33 L423.73 247.33 L425.5 247.33 L427.26 247.33 L429.03 247.33 L430.8 247.33" fill="none" stroke="#e64444" stroke-width="1.3" stroke-linejoin="round"/>
<path d="M324.75 163.6 L326.52 163.62 L328.29 163.64 L330.05 163.67 L331.82 163.71 L333.59 163.76 L335.36 163.82 L337.12 163.89 L338.89 163.99 L340.66 164.11 L342.43 164.26 L344.19 164.46 L345.96 164.7 L347.73 165 L349.5 165.38 L351.26 165.86 L353.03 166.46 L354.8 167.2 L356.56 168.11 L358.33 169.24 L360.1 170.63 L361.87 172.3 L363.63 174.32 L365.4 176.72 L367.17 179.53 L368.94 182.76 L370.71 186.43 L372.47 190.49 L374.24 194.89 L376.01 199.53 L377.78 204.3 L379.54 209.07 L381.31 213.71 L383.08 218.11 L384.85 222.17 L386.61 225.83 L388.38 229.07 L390.15 231.88 L391.92 234.28 L393.68 236.29 L395.45 237.97 L397.22 239.35 L398.99 240.48 L400.75 241.4 L402.52 242.14 L404.29 242.74 L406.06 243.21 L407.82 243.59 L409.59 243.9 L411.36 244.14 L413.12 244.33 L414.89 244.49 L416.66 244.61 L418.43 244.7 L420.2 244.78 L421.96 244.84 L423.73 244.89 L425.5 244.92 L427.26 244.95 L429.03 244.98 L430.8 245" fill="none" stroke="#f0a040" stroke-width="1.3" stroke-linejoin="round"/>
<line x1="324.75" y1="162.52" x2="324.75" y2="167.55" stroke="#22905a" stroke-width="1.1"/>
<line x1="322.75" y1="162.52" x2="326.75" y2="162.52" stroke="#22905a" stroke-width="1.1"/>
<line x1="322.75" y1="167.55" x2="326.75" y2="167.55" stroke="#22905a" stroke-width="1.1"/>
<circle cx="324.75" cy="165.04" r="2.16" fill="#22905a"/>
<line x1="339.9" y1="164.2" x2="339.9" y2="169.23" stroke="#22905a" stroke-width="1.1"/>
<line x1="337.9" y1="164.2" x2="341.9" y2="164.2" stroke="#22905a" stroke-width="1.1"/>
<line x1="337.9" y1="169.23" x2="341.9" y2="169.23" stroke="#22905a" stroke-width="1.1"/>
<circle cx="339.9" cy="166.71" r="2.16" fill="#22905a"/>
<line x1="355.05" y1="166.71" x2="355.05" y2="171.74" stroke="#22905a" stroke-width="1.1"/>
<line x1="353.05" y1="166.71" x2="357.05" y2="166.71" stroke="#22905a" stroke-width="1.1"/>
<line x1="353.05" y1="171.74" x2="357.05" y2="171.74" stroke="#22905a" stroke-width="1.1"/>
<circle cx="355.05" cy="169.23" r="2.16" fill="#22905a"/>
<line x1="370.2" y1="195.21" x2="370.2" y2="203.59" stroke="#22905a" stroke-width="1.1"/>
<line x1="368.2" y1="195.21" x2="372.2" y2="195.21" stroke="#22905a" stroke-width="1.1"/>
<line x1="368.2" y1="203.59" x2="372.2" y2="203.59" stroke="#22905a" stroke-width="1.1"/>
<circle cx="370.2" cy="199.4" r="2.16" fill="#22905a"/>
<line x1="385.35" y1="222.86" x2="385.35" y2="229.56" stroke="#22905a" stroke-width="1.1"/>
<line x1="383.35" y1="222.86" x2="387.35" y2="222.86" stroke="#22905a" stroke-width="1.1"/>
<line x1="383.35" y1="229.56" x2="387.35" y2="229.56" stroke="#22905a" stroke-width="1.1"/>
<circle cx="385.35" cy="226.21" r="2.16" fill="#22905a"/>
<line x1="400.5" y1="225.37" x2="400.5" y2="232.08" stroke="#22905a" stroke-width="1.1"/>
<line x1="398.5" y1="225.37" x2="402.5" y2="225.37" stroke="#22905a" stroke-width="1.1"/>
<line x1="398.5" y1="232.08" x2="402.5" y2="232.08" stroke="#22905a" stroke-width="1.1"/>
<circle cx="400.5" cy="228.73" r="2.16" fill="#22905a"/>
<line x1="415.65" y1="226.21" x2="415.65" y2="232.92" stroke="#22905a" stroke-width="1.1"/>
<line x1="413.65" y1="226.21" x2="417.65" y2="226.21" stroke="#22905a" stroke-width="1.1"/>
<line x1="413.65" y1="232.92" x2="417.65" y2="232.92" stroke="#22905a" stroke-width="1.1"/>
<circle cx="415.65" cy="229.56" r="2.16" fill="#22905a"/>
<line x1="430.8" y1="224.54" x2="430.8" y2="234.59" stroke="#22905a" stroke-width="1.1"/>
<line x1="428.8" y1="224.54" x2="432.8" y2="224.54" stroke="#22905a" stroke-width="1.1"/>
<line x1="428.8" y1="234.59" x2="432.8" y2="234.59" stroke="#22905a" stroke-width="1.1"/>
<circle cx="430.8" cy="229.56" r="2.16" fill="#22905a"/>
<line x1="324.75" y1="162.52" x2="324.75" y2="167.55" stroke="#72369a" stroke-width="1.1"/>
<line x1="322.75" y1="162.52" x2="326.75" y2="162.52" stroke="#72369a" stroke-width="1.1"/>
<line x1="322.75" y1="167.55" x2="326.75" y2="167.55" stroke="#72369a" stroke-width="1.1"/>
<rect x="322.75" y="163.04" width="4" height="4" fill="#72369a"/>
<line x1="339.9" y1="164.2" x2="339.9" y2="169.23" stroke="#72369a" stroke-width="1.1"/>
<line x1="337.9" y1="164.2" x2="341.9" y2="164.2" stroke="#72369a" stroke-width="1.1"/>
<line x1="337.9" y1="169.23" x2="341.9" y2="169.23" stroke="#72369a" stroke-width="1.1"/>
<rect x="337.9" y="164.71" width="4" height="4" fill="#72369a"/>
<line x1="355.05" y1="163.36" x2="355.05" y2="168.39" stroke="#72369a" stroke-width="1.1"/>
<line x1="353.05" y1="163.36" x2="357.05" y2="163.36" stroke="#72369a" stroke-width="1.1"/>
<line x1="353.05" y1="168.39" x2="357.05" y2="168.39" stroke="#72369a" stroke-width="1.1"/>
<rect x="353.05" y="163.88" width="4" height="4" fill="#72369a"/>
<line x1="370.2" y1="185.15" x2="370.2" y2="193.53" stroke="#72369a" stroke-width="1.1"/>
<line x1="368.2" y1="185.15" x2="372.2" y2="185.15" stroke="#72369a" stroke-width="1.1"/>
<line x1="368.2" y1="193.53" x2="372.2" y2="193.53" stroke="#72369a" stroke-width="1.1"/>
<rect x="368.2" y="187.34" width="4" height="4" fill="#72369a"/>
<line x1="385.35" y1="222.02" x2="385.35" y2="232.08" stroke="#72369a" stroke-width="1.1"/>
<line x1="383.35" y1="222.02" x2="387.35" y2="222.02" stroke="#72369a" stroke-width="1.1"/>
<line x1="383.35" y1="232.08" x2="387.35" y2="232.08" stroke="#72369a" stroke-width="1.1"/>
<rect x="383.35" y="225.05" width="4" height="4" fill="#72369a"/>
<line x1="400.5" y1="222.86" x2="400.5" y2="232.92" stroke="#72369a" stroke-width="1.1"/>
<line x1="398.5" y1="222.86" x2="402.5" y2="222.86" stroke="#72369a" stroke-width="1.1"/>
<line x1="398.5" y1="232.92" x2="402.5" y2="232.92" stroke="#72369a" stroke-width="1.1"/>
<rect x="398.5" y="225.89" width="4" height="4" fill="#72369a"/>
<line x1="415.65" y1="236.27" x2="415.65" y2="242.97" stroke="#72369a" stroke-width="1.1"/>
<line x1="413.65" y1="236.27" x2="417.65" y2="236.27" stroke="#72369a" stroke-width="1.1"/>
<line x1="413.65" y1="242.97" x2="417.65" y2="242.97" stroke="#72369a" stroke-width="1.1"/>
<rect x="413.65" y="237.62" width="4" height="4" fill="#72369a"/>
<line x1="430.8" y1="234.59" x2="430.8" y2="241.3" stroke="#72369a" stroke-width="1.1"/>
<line x1="428.8" y1="234.59" x2="432.8" y2="234.59" stroke="#72369a" stroke-width="1.1"/>
<line x1="428.8" y1="241.3" x2="432.8" y2="241.3" stroke="#72369a" stroke-width="1.1"/>
<rect x="428.8" y="235.94" width="4" height="4" fill="#72369a"/>
<line x1="324.75" y1="163.36" x2="324.75" y2="168.39" stroke="#3656b8" stroke-width="1.1"/>
<line x1="322.75" y1="163.36" x2="326.75" y2="163.36" stroke="#3656b8" stroke-width="1.1"/>
<line x1="322.75" y1="168.39" x2="326.75" y2="168.39" stroke="#3656b8" stroke-width="1.1"/>
<path d="M324.75 163.58L327.15 167.78L322.35 167.78Z" fill="#3656b8"/>
<line x1="339.9" y1="168.39" x2="339.9" y2="176.77" stroke="#3656b8" stroke-width="1.1"/>
<line x1="337.9" y1="168.39" x2="341.9" y2="168.39" stroke="#3656b8" stroke-width="1.1"/>
<line x1="337.9" y1="176.77" x2="341.9" y2="176.77" stroke="#3656b8" stroke-width="1.1"/>
<path d="M339.9 170.28L342.3 174.48L337.5 174.48Z" fill="#3656b8"/>
<line x1="355.05" y1="180.12" x2="355.05" y2="190.18" stroke="#3656b8" stroke-width="1.1"/>
<line x1="353.05" y1="180.12" x2="357.05" y2="180.12" stroke="#3656b8" stroke-width="1.1"/>
<line x1="353.05" y1="190.18" x2="357.05" y2="190.18" stroke="#3656b8" stroke-width="1.1"/>
<path d="M355.05 182.85L357.45 187.05L352.65 187.05Z" fill="#3656b8"/>
<line x1="370.2" y1="208.61" x2="370.2" y2="216.99" stroke="#3656b8" stroke-width="1.1"/>
<line x1="368.2" y1="208.61" x2="372.2" y2="208.61" stroke="#3656b8" stroke-width="1.1"/>
<line x1="368.2" y1="216.99" x2="372.2" y2="216.99" stroke="#3656b8" stroke-width="1.1"/>
<path d="M370.2 210.5L372.6 214.7L367.8 214.7Z" fill="#3656b8"/>
<line x1="385.35" y1="227.89" x2="385.35" y2="234.59" stroke="#3656b8" stroke-width="1.1"/>
<line x1="383.35" y1="227.89" x2="387.35" y2="227.89" stroke="#3656b8" stroke-width="1.1"/>
<line x1="383.35" y1="234.59" x2="387.35" y2="234.59" stroke="#3656b8" stroke-width="1.1"/>
<path d="M385.35 228.94L387.75 233.14L382.95 233.14Z" fill="#3656b8"/>
<line x1="400.5" y1="227.05" x2="400.5" y2="233.75" stroke="#3656b8" stroke-width="1.1"/>
<line x1="398.5" y1="227.05" x2="402.5" y2="227.05" stroke="#3656b8" stroke-width="1.1"/>
<line x1="398.5" y1="233.75" x2="402.5" y2="233.75" stroke="#3656b8" stroke-width="1.1"/>
<path d="M400.5 228.1L402.9 232.3L398.1 232.3Z" fill="#3656b8"/>
<line x1="415.65" y1="234.59" x2="415.65" y2="239.62" stroke="#3656b8" stroke-width="1.1"/>
<line x1="413.65" y1="234.59" x2="417.65" y2="234.59" stroke="#3656b8" stroke-width="1.1"/>
<line x1="413.65" y1="239.62" x2="417.65" y2="239.62" stroke="#3656b8" stroke-width="1.1"/>
<path d="M415.65 234.81L418.05 239.01L413.25 239.01Z" fill="#3656b8"/>
<line x1="430.8" y1="234.59" x2="430.8" y2="239.62" stroke="#3656b8" stroke-width="1.1"/>
<line x1="428.8" y1="234.59" x2="432.8" y2="234.59" stroke="#3656b8" stroke-width="1.1"/>
<line x1="428.8" y1="239.62" x2="432.8" y2="239.62" stroke="#3656b8" stroke-width="1.1"/>
<path d="M430.8 234.81L433.2 239.01L428.4 239.01Z" fill="#3656b8"/>
<line x1="324.75" y1="164.2" x2="324.75" y2="169.23" stroke="#e64444" stroke-width="1.1"/>
<line x1="322.75" y1="164.2" x2="326.75" y2="164.2" stroke="#e64444" stroke-width="1.1"/>
<line x1="322.75" y1="169.23" x2="326.75" y2="169.23" stroke="#e64444" stroke-width="1.1"/>
<path d="M324.75 169.01L327.15 164.81L322.35 164.81Z" fill="#e64444"/>
<line x1="339.9" y1="165.04" x2="339.9" y2="170.07" stroke="#e64444" stroke-width="1.1"/>
<line x1="337.9" y1="165.04" x2="341.9" y2="165.04" stroke="#e64444" stroke-width="1.1"/>
<line x1="337.9" y1="170.07" x2="341.9" y2="170.07" stroke="#e64444" stroke-width="1.1"/>
<path d="M339.9 169.85L342.3 165.65L337.5 165.65Z" fill="#e64444"/>
<line x1="355.05" y1="168.39" x2="355.05" y2="173.42" stroke="#e64444" stroke-width="1.1"/>
<line x1="353.05" y1="168.39" x2="357.05" y2="168.39" stroke="#e64444" stroke-width="1.1"/>
<line x1="353.05" y1="173.42" x2="357.05" y2="173.42" stroke="#e64444" stroke-width="1.1"/>
<path d="M355.05 173.2L357.45 169L352.65 169Z" fill="#e64444"/>
<line x1="370.2" y1="216.99" x2="370.2" y2="223.7" stroke="#e64444" stroke-width="1.1"/>
<line x1="368.2" y1="216.99" x2="372.2" y2="216.99" stroke="#e64444" stroke-width="1.1"/>
<line x1="368.2" y1="223.7" x2="372.2" y2="223.7" stroke="#e64444" stroke-width="1.1"/>
<path d="M370.2 222.65L372.6 218.45L367.8 218.45Z" fill="#e64444"/>
<line x1="385.35" y1="240.46" x2="385.35" y2="245.49" stroke="#e64444" stroke-width="1.1"/>
<line x1="383.35" y1="240.46" x2="387.35" y2="240.46" stroke="#e64444" stroke-width="1.1"/>
<line x1="383.35" y1="245.49" x2="387.35" y2="245.49" stroke="#e64444" stroke-width="1.1"/>
<path d="M385.35 245.27L387.75 241.07L382.95 241.07Z" fill="#e64444"/>
<line x1="400.5" y1="245.49" x2="400.5" y2="248.84" stroke="#e64444" stroke-width="1.1"/>
<line x1="398.5" y1="245.49" x2="402.5" y2="245.49" stroke="#e64444" stroke-width="1.1"/>
<line x1="398.5" y1="248.84" x2="402.5" y2="248.84" stroke="#e64444" stroke-width="1.1"/>
<path d="M400.5 249.46L402.9 245.26L398.1 245.26Z" fill="#e64444"/>
<line x1="415.65" y1="246.32" x2="415.65" y2="249.68" stroke="#e64444" stroke-width="1.1"/>
<line x1="413.65" y1="246.32" x2="417.65" y2="246.32" stroke="#e64444" stroke-width="1.1"/>
<line x1="413.65" y1="249.68" x2="417.65" y2="249.68" stroke="#e64444" stroke-width="1.1"/>
<path d="M415.65 250.3L418.05 246.1L413.25 246.1Z" fill="#e64444"/>
<line x1="430.8" y1="246.32" x2="430.8" y2="249.68" stroke="#e64444" stroke-width="1.1"/>
<line x1="428.8" y1="246.32" x2="432.8" y2="246.32" stroke="#e64444" stroke-width="1.1"/>
<line x1="428.8" y1="249.68" x2="432.8" y2="249.68" stroke="#e64444" stroke-width="1.1"/>
<path d="M430.8 250.3L433.2 246.1L428.4 246.1Z" fill="#e64444"/>
<line x1="324.75" y1="156.66" x2="324.75" y2="166.71" stroke="#f0a040" stroke-width="1.1"/>
<line x1="322.75" y1="156.66" x2="326.75" y2="156.66" stroke="#f0a040" stroke-width="1.1"/>
<line x1="322.75" y1="166.71" x2="326.75" y2="166.71" stroke="#f0a040" stroke-width="1.1"/>
<path d="M324.75 163.99L327.15 159.79L322.35 159.79Z" fill="#f0a040"/>
<line x1="339.9" y1="161.69" x2="339.9" y2="170.07" stroke="#f0a040" stroke-width="1.1"/>
<line x1="337.9" y1="161.69" x2="341.9" y2="161.69" stroke="#f0a040" stroke-width="1.1"/>
<line x1="337.9" y1="170.07" x2="341.9" y2="170.07" stroke="#f0a040" stroke-width="1.1"/>
<path d="M339.9 168.18L342.3 163.98L337.5 163.98Z" fill="#f0a040"/>
<line x1="355.05" y1="164.2" x2="355.05" y2="170.9" stroke="#f0a040" stroke-width="1.1"/>
<line x1="353.05" y1="164.2" x2="357.05" y2="164.2" stroke="#f0a040" stroke-width="1.1"/>
<line x1="353.05" y1="170.9" x2="357.05" y2="170.9" stroke="#f0a040" stroke-width="1.1"/>
<path d="M355.05 169.85L357.45 165.65L352.65 165.65Z" fill="#f0a040"/>
<line x1="370.2" y1="175.93" x2="370.2" y2="192.69" stroke="#f0a040" stroke-width="1.1"/>
<line x1="368.2" y1="175.93" x2="372.2" y2="175.93" stroke="#f0a040" stroke-width="1.1"/>
<line x1="368.2" y1="192.69" x2="372.2" y2="192.69" stroke="#f0a040" stroke-width="1.1"/>
<path d="M370.2 186.61L372.6 182.41L367.8 182.41Z" fill="#f0a040"/>
<line x1="385.35" y1="221.18" x2="385.35" y2="231.24" stroke="#f0a040" stroke-width="1.1"/>
<line x1="383.35" y1="221.18" x2="387.35" y2="221.18" stroke="#f0a040" stroke-width="1.1"/>
<line x1="383.35" y1="231.24" x2="387.35" y2="231.24" stroke="#f0a040" stroke-width="1.1"/>
<path d="M385.35 228.51L387.75 224.31L382.95 224.31Z" fill="#f0a040"/>
<line x1="400.5" y1="235.43" x2="400.5" y2="240.46" stroke="#f0a040" stroke-width="1.1"/>
<line x1="398.5" y1="235.43" x2="402.5" y2="235.43" stroke="#f0a040" stroke-width="1.1"/>
<line x1="398.5" y1="240.46" x2="402.5" y2="240.46" stroke="#f0a040" stroke-width="1.1"/>
<path d="M400.5 240.24L402.9 236.04L398.1 236.04Z" fill="#f0a040"/>
<line x1="415.65" y1="243.81" x2="415.65" y2="247.16" stroke="#f0a040" stroke-width="1.1"/>
<line x1="413.65" y1="243.81" x2="417.65" y2="243.81" stroke="#f0a040" stroke-width="1.1"/>
<line x1="413.65" y1="247.16" x2="417.65" y2="247.16" stroke="#f0a040" stroke-width="1.1"/>
<path d="M415.65 247.79L418.05 243.59L413.25 243.59Z" fill="#f0a040"/>
<line x1="430.8" y1="244.65" x2="430.8" y2="248" stroke="#f0a040" stroke-width="1.1"/>
<line x1="428.8" y1="244.65" x2="432.8" y2="244.65" stroke="#f0a040" stroke-width="1.1"/>
<line x1="428.8" y1="248" x2="432.8" y2="248" stroke="#f0a040" stroke-width="1.1"/>
<path d="M430.8 248.62L433.2 244.42L428.4 244.42Z" fill="#f0a040"/>
<line x1="380.3" y1="154.3" x2="390" y2="154.3" stroke="#22905a" stroke-width="1.3"/>
<circle cx="385.15" cy="154.3" r="1.84" fill="#22905a"/>
<text x="395.2" y="157.49" font-size="8.85">Jurkat (0.8)</text>
<line x1="380.3" y1="166.7" x2="390" y2="166.7" stroke="#72369a" stroke-width="1.3"/>
<rect x="383.45" y="165" width="3.4" height="3.4" fill="#72369a"/>
<text x="395.2" y="169.89" font-size="8.85">MOLT-3 (1.6)</text>
<line x1="380.3" y1="177.9" x2="390" y2="177.9" stroke="#3656b8" stroke-width="1.3"/>
<path d="M385.15 175.94L387.19 179.52L383.11 179.52Z" fill="#3656b8"/>
<text x="395.2" y="181.09" font-size="8.85">HPB-ALL (0.6)</text>
<line x1="380.3" y1="190.9" x2="390" y2="190.9" stroke="#e64444" stroke-width="1.3"/>
<path d="M385.15 192.86L387.19 189.28L383.11 189.28Z" fill="#e64444"/>
<text x="395.2" y="194.09" font-size="8.85">CCRF-CEM (0.8)</text>
<line x1="380.3" y1="202.7" x2="390" y2="202.7" stroke="#f0a040" stroke-width="1.3"/>
<path d="M385.15 204.66L387.19 201.08L383.11 201.08Z" fill="#f0a040"/>
<text x="395.2" y="205.89" font-size="8.85">CCRF-CEM Luc (1.8)</text>
<line x1="28.6" y1="305.2" x2="28.6" y2="398.45" stroke="#1e1e1e" stroke-width="1.35"/>
<line x1="28.6" y1="397.8" x2="165.9" y2="397.8" stroke="#1e1e1e" stroke-width="1.35"/>
<line x1="25.6" y1="394.6" x2="28.6" y2="394.6" stroke="#1e1e1e" stroke-width="1.35"/>
<text x="24.6" y="396.9" font-size="8.5" text-anchor="end">0</text>
<line x1="25.6" y1="381.91" x2="28.6" y2="381.91" stroke="#1e1e1e" stroke-width="1.35"/>
<text x="24.6" y="384.21" font-size="8.5" text-anchor="end">20</text>
<line x1="25.6" y1="369.22" x2="28.6" y2="369.22" stroke="#1e1e1e" stroke-width="1.35"/>
<text x="24.6" y="371.52" font-size="8.5" text-anchor="end">40</text>
<line x1="25.6" y1="356.53" x2="28.6" y2="356.53" stroke="#1e1e1e" stroke-width="1.35"/>
<text x="24.6" y="358.83" font-size="8.5" text-anchor="end">60</text>
<line x1="25.6" y1="343.84" x2="28.6" y2="343.84" stroke="#1e1e1e" stroke-width="1.35"/>
<text x="24.6" y="346.14" font-size="8.5" text-anchor="end">80</text>
<line x1="25.6" y1="331.15" x2="28.6" y2="331.15" stroke="#1e1e1e" stroke-width="1.35"/>
<text x="24.6" y="333.45" font-size="8.5" text-anchor="end">100</text>
<line x1="25.6" y1="318.46" x2="28.6" y2="318.46" stroke="#1e1e1e" stroke-width="1.35"/>
<text x="24.6" y="320.76" font-size="8.5" text-anchor="end">120</text>
<line x1="25.6" y1="305.77" x2="28.6" y2="305.77" stroke="#1e1e1e" stroke-width="1.35"/>
<text x="24.6" y="308.07" font-size="8.5" text-anchor="end">140</text>
<line x1="42.2" y1="397.8" x2="42.2" y2="400.8" stroke="#1e1e1e" stroke-width="1.35"/>
<text x="42.2" y="409.1" font-size="8.5" text-anchor="middle">-8</text>
<line x1="69.65" y1="397.8" x2="69.65" y2="400.8" stroke="#1e1e1e" stroke-width="1.35"/>
<text x="69.65" y="409.1" font-size="8.5" text-anchor="middle">-7</text>
<line x1="97.1" y1="397.8" x2="97.1" y2="400.8" stroke="#1e1e1e" stroke-width="1.35"/>
<text x="97.1" y="409.1" font-size="8.5" text-anchor="middle">-6</text>
<line x1="124.55" y1="397.8" x2="124.55" y2="400.8" stroke="#1e1e1e" stroke-width="1.35"/>
<text x="124.55" y="409.1" font-size="8.5" text-anchor="middle">-5</text>
<line x1="152" y1="397.8" x2="152" y2="400.8" stroke="#1e1e1e" stroke-width="1.35"/>
<text x="152" y="409.1" font-size="8.5" text-anchor="middle">-4</text>
<text x="103.5" y="419" font-size="9.5" text-anchor="middle">LDK Log (M)</text>
<text transform="translate(10 342.9) rotate(-90)" font-size="9.8" text-anchor="middle">%Control (DMSO)</text>
<path d="M97.1 333.05 L98.02 333.05 L98.93 333.05 L99.84 333.05 L100.76 333.05 L101.68 333.05 L102.59 333.05 L103.5 333.05 L104.42 333.05 L105.33 333.05 L106.25 333.05 L107.16 333.05 L108.08 333.05 L109 333.05 L109.91 333.05 L110.83 333.05 L111.74 333.05 L112.66 333.05 L113.57 333.05 L114.48 333.05 L115.4 333.05 L116.32 333.05 L117.23 333.05 L118.14 333.05 L119.06 333.05 L119.97 333.05 L120.89 333.05 L121.81 333.07 L122.72 333.17 L123.64 334.21 L124.55 342.52 L125.47 366.77 L126.38 378.39 L127.29 380.01 L128.21 380.18 L129.12 380.19 L130.04 380.2 L130.95 380.2 L131.87 380.2 L132.78 380.2 L133.7 380.2 L134.62 380.2 L135.53 380.2 L136.44 380.2 L137.36 380.2 L138.28 380.2 L139.19 380.2 L140.1 380.2 L141.02 380.2 L141.94 380.2 L142.85 380.2 L143.76 380.2 L144.68 380.2 L145.59 380.2 L146.51 380.2 L147.43 380.2 L148.34 380.2 L149.25 380.2 L150.17 380.2 L151.09 380.2 L152 380.2" fill="none" stroke="#a82e2e" stroke-width="1.3" stroke-linejoin="round"/>
<path d="M97.1 349.68 L98.02 349.68 L98.93 349.68 L99.84 349.68 L100.76 349.68 L101.68 349.68 L102.59 349.68 L103.5 349.68 L104.42 349.68 L105.33 349.68 L106.25 349.68 L107.16 349.68 L108.08 349.68 L109 349.68 L109.91 349.68 L110.83 349.68 L111.74 349.68 L112.66 349.68 L113.57 349.68 L114.48 349.68 L115.4 349.68 L116.32 349.68 L117.23 349.68 L118.14 349.68 L119.06 349.68 L119.97 349.68 L120.89 349.68 L121.81 349.68 L122.72 349.7 L123.64 349.9 L124.55 351.74 L125.47 363.13 L126.38 379.69 L127.29 383.91 L128.21 384.39 L129.12 384.44 L130.04 384.45 L130.95 384.45 L131.87 384.45 L132.78 384.45 L133.7 384.45 L134.62 384.45 L135.53 384.45 L136.44 384.45 L137.36 384.45 L138.28 384.45 L139.19 384.45 L140.1 384.45 L141.02 384.45 L141.94 384.45 L142.85 384.45 L143.76 384.45 L144.68 384.45 L145.59 384.45 L146.51 384.45 L147.43 384.45 L148.34 384.45 L149.25 384.45 L150.17 384.45 L151.09 384.45 L152 384.45" fill="none" stroke="#3050b0" stroke-width="1.3" stroke-linejoin="round"/>
<path d="M97.1 338.32 L98.02 338.32 L98.93 338.32 L99.84 338.32 L100.76 338.32 L101.68 338.32 L102.59 338.32 L103.5 338.32 L104.42 338.32 L105.33 338.32 L106.25 338.32 L107.16 338.32 L108.08 338.32 L109 338.32 L109.91 338.32 L110.83 338.32 L111.74 338.32 L112.66 338.32 L113.57 338.32 L114.48 338.32 L115.4 338.32 L116.32 338.32 L117.23 338.32 L118.14 338.32 L119.06 338.32 L119.97 338.32 L120.89 338.32 L121.81 338.32 L122.72 338.36 L123.64 338.68 L124.55 341.56 L125.47 354.48 L126.38 365.18 L127.29 367.09 L128.21 367.29 L129.12 367.31 L130.04 367.32 L130.95 367.32 L131.87 367.32 L132.78 367.32 L133.7 367.32 L134.62 367.32 L135.53 367.32 L136.44 367.32 L137.36 367.32 L138.28 367.32 L139.19 367.32 L140.1 367.32 L141.02 367.32 L141.94 367.32 L142.85 367.32 L143.76 367.32 L144.68 367.32 L145.59 367.32 L146.51 367.32 L147.43 367.32 L148.34 367.32 L149.25 367.32 L150.17 367.32 L151.09 367.32 L152 367.32" fill="none" stroke="#f08848" stroke-width="1.3" stroke-linejoin="round"/>
<path d="M55.93 332.57 L57.53 332.58 L59.13 332.59 L60.73 332.6 L62.33 332.62 L63.93 332.65 L65.53 332.69 L67.13 332.74 L68.74 332.81 L70.34 332.9 L71.94 333.03 L73.54 333.2 L75.14 333.43 L76.74 333.74 L78.34 334.16 L79.94 334.72 L81.55 335.45 L83.15 336.42 L84.75 337.67 L86.35 339.27 L87.95 341.26 L89.55 343.68 L91.15 346.53 L92.75 349.76 L94.36 353.29 L95.96 356.96 L97.56 360.61 L99.16 364.07 L100.76 367.2 L102.36 369.93 L103.96 372.22 L105.56 374.1 L107.17 375.59 L108.77 376.75 L110.37 377.65 L111.97 378.33 L113.57 378.84 L115.17 379.23 L116.77 379.51 L118.37 379.73 L119.98 379.88 L121.58 380 L123.18 380.09 L124.78 380.15 L126.38 380.2 L127.98 380.23 L129.58 380.25 L131.18 380.27 L132.78 380.29 L134.39 380.3 L135.99 380.3 L137.59 380.31 L139.19 380.31 L140.79 380.32 L142.39 380.32 L143.99 380.32 L145.59 380.32 L147.2 380.32 L148.8 380.32 L150.4 380.32 L152 380.32" fill="none" stroke="#22905a" stroke-width="1.3" stroke-linejoin="round"/>
<path d="M55.93 330.12L58.33 334.32L53.53 334.32Z" fill="#22905a"/>
<line x1="69.65" y1="332.42" x2="69.65" y2="334.96" stroke="#22905a" stroke-width="1.1"/>
<line x1="67.65" y1="332.42" x2="71.65" y2="332.42" stroke="#22905a" stroke-width="1.1"/>
<line x1="67.65" y1="334.96" x2="71.65" y2="334.96" stroke="#22905a" stroke-width="1.1"/>
<path d="M69.65 331.39L72.05 335.59L67.25 335.59Z" fill="#22905a"/>
<line x1="83.38" y1="335.59" x2="83.38" y2="338.13" stroke="#22905a" stroke-width="1.1"/>
<line x1="81.38" y1="335.59" x2="85.38" y2="335.59" stroke="#22905a" stroke-width="1.1"/>
<line x1="81.38" y1="338.13" x2="85.38" y2="338.13" stroke="#22905a" stroke-width="1.1"/>
<path d="M83.38 334.56L85.78 338.76L80.97 338.76Z" fill="#22905a"/>
<line x1="97.1" y1="353.36" x2="97.1" y2="363.51" stroke="#22905a" stroke-width="1.1"/>
<line x1="95.1" y1="353.36" x2="99.1" y2="353.36" stroke="#22905a" stroke-width="1.1"/>
<line x1="95.1" y1="363.51" x2="99.1" y2="363.51" stroke="#22905a" stroke-width="1.1"/>
<path d="M97.1 356.13L99.5 360.33L94.7 360.33Z" fill="#22905a"/>
<line x1="110.83" y1="378.1" x2="110.83" y2="381.91" stroke="#22905a" stroke-width="1.1"/>
<line x1="108.83" y1="378.1" x2="112.83" y2="378.1" stroke="#22905a" stroke-width="1.1"/>
<line x1="108.83" y1="381.91" x2="112.83" y2="381.91" stroke="#22905a" stroke-width="1.1"/>
<path d="M110.83 377.71L113.23 381.91L108.42 381.91Z" fill="#22905a"/>
<line x1="124.55" y1="378.74" x2="124.55" y2="382.54" stroke="#22905a" stroke-width="1.1"/>
<line x1="122.55" y1="378.74" x2="126.55" y2="378.74" stroke="#22905a" stroke-width="1.1"/>
<line x1="122.55" y1="382.54" x2="126.55" y2="382.54" stroke="#22905a" stroke-width="1.1"/>
<path d="M124.55 378.34L126.95 382.54L122.15 382.54Z" fill="#22905a"/>
<line x1="138.28" y1="379.37" x2="138.28" y2="381.91" stroke="#22905a" stroke-width="1.1"/>
<line x1="136.28" y1="379.37" x2="140.28" y2="379.37" stroke="#22905a" stroke-width="1.1"/>
<line x1="136.28" y1="381.91" x2="140.28" y2="381.91" stroke="#22905a" stroke-width="1.1"/>
<path d="M138.28 378.34L140.68 382.54L135.88 382.54Z" fill="#22905a"/>
<line x1="152" y1="379.37" x2="152" y2="383.18" stroke="#22905a" stroke-width="1.1"/>
<line x1="150" y1="379.37" x2="154" y2="379.37" stroke="#22905a" stroke-width="1.1"/>
<line x1="150" y1="383.18" x2="154" y2="383.18" stroke="#22905a" stroke-width="1.1"/>
<path d="M152 378.98L154.4 383.18L149.6 383.18Z" fill="#22905a"/>
<line x1="97.1" y1="317.83" x2="97.1" y2="335.59" stroke="#a82e2e" stroke-width="1.1"/>
<line x1="95.1" y1="317.83" x2="99.1" y2="317.83" stroke="#a82e2e" stroke-width="1.1"/>
<line x1="95.1" y1="335.59" x2="99.1" y2="335.59" stroke="#a82e2e" stroke-width="1.1"/>
<circle cx="97.1" cy="326.71" r="2.16" fill="#a82e2e"/>
<line x1="110.83" y1="329.88" x2="110.83" y2="343.84" stroke="#a82e2e" stroke-width="1.1"/>
<line x1="108.83" y1="329.88" x2="112.83" y2="329.88" stroke="#a82e2e" stroke-width="1.1"/>
<line x1="108.83" y1="343.84" x2="112.83" y2="343.84" stroke="#a82e2e" stroke-width="1.1"/>
<circle cx="110.83" cy="336.86" r="2.16" fill="#a82e2e"/>
<line x1="124.55" y1="338.76" x2="124.55" y2="355.26" stroke="#a82e2e" stroke-width="1.1"/>
<line x1="122.55" y1="338.76" x2="126.55" y2="338.76" stroke="#a82e2e" stroke-width="1.1"/>
<line x1="122.55" y1="355.26" x2="126.55" y2="355.26" stroke="#a82e2e" stroke-width="1.1"/>
<circle cx="124.55" cy="347.01" r="2.16" fill="#a82e2e"/>
<line x1="138.28" y1="378.1" x2="138.28" y2="385.72" stroke="#a82e2e" stroke-width="1.1"/>
<line x1="136.28" y1="378.1" x2="140.28" y2="378.1" stroke="#a82e2e" stroke-width="1.1"/>
<line x1="136.28" y1="385.72" x2="140.28" y2="385.72" stroke="#a82e2e" stroke-width="1.1"/>
<circle cx="138.28" cy="381.91" r="2.16" fill="#a82e2e"/>
<line x1="152" y1="371.12" x2="152" y2="381.28" stroke="#a82e2e" stroke-width="1.1"/>
<line x1="150" y1="371.12" x2="154" y2="371.12" stroke="#a82e2e" stroke-width="1.1"/>
<line x1="150" y1="381.28" x2="154" y2="381.28" stroke="#a82e2e" stroke-width="1.1"/>
<circle cx="152" cy="376.2" r="2.16" fill="#a82e2e"/>
<line x1="97.1" y1="350.19" x2="97.1" y2="356.53" stroke="#3050b0" stroke-width="1.1"/>
<line x1="95.1" y1="350.19" x2="99.1" y2="350.19" stroke="#3050b0" stroke-width="1.1"/>
<line x1="95.1" y1="356.53" x2="99.1" y2="356.53" stroke="#3050b0" stroke-width="1.1"/>
<rect x="95.1" y="351.36" width="4" height="4" fill="#3050b0"/>
<line x1="110.83" y1="344.09" x2="110.83" y2="349.17" stroke="#3050b0" stroke-width="1.1"/>
<line x1="108.83" y1="344.09" x2="112.83" y2="344.09" stroke="#3050b0" stroke-width="1.1"/>
<line x1="108.83" y1="349.17" x2="112.83" y2="349.17" stroke="#3050b0" stroke-width="1.1"/>
<rect x="108.83" y="344.63" width="4" height="4" fill="#3050b0"/>
<line x1="124.55" y1="353.55" x2="124.55" y2="363.7" stroke="#3050b0" stroke-width="1.1"/>
<line x1="122.55" y1="353.55" x2="126.55" y2="353.55" stroke="#3050b0" stroke-width="1.1"/>
<line x1="122.55" y1="363.7" x2="126.55" y2="363.7" stroke="#3050b0" stroke-width="1.1"/>
<rect x="122.55" y="356.62" width="4" height="4" fill="#3050b0"/>
<line x1="138.28" y1="384.19" x2="138.28" y2="391.81" stroke="#3050b0" stroke-width="1.1"/>
<line x1="136.28" y1="384.19" x2="140.28" y2="384.19" stroke="#3050b0" stroke-width="1.1"/>
<line x1="136.28" y1="391.81" x2="140.28" y2="391.81" stroke="#3050b0" stroke-width="1.1"/>
<rect x="136.28" y="386" width="4" height="4" fill="#3050b0"/>
<line x1="152" y1="373.79" x2="152" y2="381.4" stroke="#3050b0" stroke-width="1.1"/>
<line x1="150" y1="373.79" x2="154" y2="373.79" stroke="#3050b0" stroke-width="1.1"/>
<line x1="150" y1="381.4" x2="154" y2="381.4" stroke="#3050b0" stroke-width="1.1"/>
<rect x="150" y="375.6" width="4" height="4" fill="#3050b0"/>
<line x1="97.1" y1="329.25" x2="97.1" y2="336.86" stroke="#f08848" stroke-width="1.1"/>
<line x1="95.1" y1="329.25" x2="99.1" y2="329.25" stroke="#f08848" stroke-width="1.1"/>
<line x1="95.1" y1="336.86" x2="99.1" y2="336.86" stroke="#f08848" stroke-width="1.1"/>
<path d="M97.1 335.35L99.5 331.15L94.7 331.15Z" fill="#f08848"/>
<line x1="110.83" y1="327.34" x2="110.83" y2="352.72" stroke="#f08848" stroke-width="1.1"/>
<line x1="108.83" y1="327.34" x2="112.83" y2="327.34" stroke="#f08848" stroke-width="1.1"/>
<line x1="108.83" y1="352.72" x2="112.83" y2="352.72" stroke="#f08848" stroke-width="1.1"/>
<path d="M110.83 342.33L113.23 338.13L108.42 338.13Z" fill="#f08848"/>
<line x1="124.55" y1="329.25" x2="124.55" y2="348.28" stroke="#f08848" stroke-width="1.1"/>
<line x1="122.55" y1="329.25" x2="126.55" y2="329.25" stroke="#f08848" stroke-width="1.1"/>
<line x1="122.55" y1="348.28" x2="126.55" y2="348.28" stroke="#f08848" stroke-width="1.1"/>
<path d="M124.55 341.06L126.95 336.86L122.15 336.86Z" fill="#f08848"/>
<line x1="138.28" y1="356.53" x2="138.28" y2="388.25" stroke="#f08848" stroke-width="1.1"/>
<line x1="136.28" y1="356.53" x2="140.28" y2="356.53" stroke="#f08848" stroke-width="1.1"/>
<line x1="136.28" y1="388.25" x2="140.28" y2="388.25" stroke="#f08848" stroke-width="1.1"/>
<path d="M138.28 374.69L140.68 370.49L135.88 370.49Z" fill="#f08848"/>
<path d="M152 363.53L154.4 359.33L149.6 359.33Z" fill="#f08848"/>
<line x1="137.5" y1="306.9" x2="146.3" y2="306.9" stroke="#a82e2e" stroke-width="1.3"/>
<circle cx="141.9" cy="306.9" r="1.84" fill="#a82e2e"/>
<text x="153" y="310.1" font-size="8.9">PB T-Cell LDK (10.4)</text>
<line x1="137.5" y1="318.4" x2="146.3" y2="318.4" stroke="#3050b0" stroke-width="1.3"/>
<rect x="140.2" y="316.7" width="3.4" height="3.4" fill="#3050b0"/>
<text x="153" y="321.6" font-size="8.9">PB B-Cell LDK (10.2)</text>
<line x1="137.5" y1="330.3" x2="146.3" y2="330.3" stroke="#22905a" stroke-width="1.3"/>
<path d="M141.9 328.35L143.94 331.92L139.86 331.92Z" fill="#22905a"/>
<text x="153" y="333.5" font-size="8.9">Jurkat LDK (0.8)</text>
<line x1="137.5" y1="342.5" x2="146.3" y2="342.5" stroke="#f08848" stroke-width="1.3"/>
<path d="M141.9 344.45L143.94 340.88L139.86 340.88Z" fill="#f08848"/>
<text x="154.3" y="345.7" font-size="8.9">PB Monocytes LDK (10.4)</text>
<line x1="307.6" y1="292.3" x2="307.6" y2="393.55" stroke="#1e1e1e" stroke-width="1.35"/>
<line x1="307.6" y1="392.9" x2="453.6" y2="392.9" stroke="#1e1e1e" stroke-width="1.35"/>
<line x1="304.6" y1="389.3" x2="307.6" y2="389.3" stroke="#1e1e1e" stroke-width="1.35"/>
<text x="303.6" y="391.6" font-size="8.5" text-anchor="end">0</text>
<line x1="304.6" y1="375.67" x2="307.6" y2="375.67" stroke="#1e1e1e" stroke-width="1.35"/>
<text x="303.6" y="377.97" font-size="8.5" text-anchor="end">20</text>
<line x1="304.6" y1="362.04" x2="307.6" y2="362.04" stroke="#1e1e1e" stroke-width="1.35"/>
<text x="303.6" y="364.34" font-size="8.5" text-anchor="end">40</text>
<line x1="304.6" y1="348.41" x2="307.6" y2="348.41" stroke="#1e1e1e" stroke-width="1.35"/>
<text x="303.6" y="350.71" font-size="8.5" text-anchor="end">60</text>
<line x1="304.6" y1="334.78" x2="307.6" y2="334.78" stroke="#1e1e1e" stroke-width="1.35"/>
<text x="303.6" y="337.08" font-size="8.5" text-anchor="end">80</text>
<line x1="304.6" y1="321.15" x2="307.6" y2="321.15" stroke="#1e1e1e" stroke-width="1.35"/>
<text x="303.6" y="323.45" font-size="8.5" text-anchor="end">100</text>
<line x1="304.6" y1="307.52" x2="307.6" y2="307.52" stroke="#1e1e1e" stroke-width="1.35"/>
<text x="303.6" y="309.82" font-size="8.5" text-anchor="end">120</text>
<line x1="304.6" y1="293.89" x2="307.6" y2="293.89" stroke="#1e1e1e" stroke-width="1.35"/>
<text x="303.6" y="296.19" font-size="8.5" text-anchor="end">140</text>
<line x1="322.4" y1="392.9" x2="322.4" y2="395.9" stroke="#1e1e1e" stroke-width="1.35"/>
<text x="322.4" y="405.7" font-size="8.5" text-anchor="middle">-8</text>
<line x1="351.4" y1="392.9" x2="351.4" y2="395.9" stroke="#1e1e1e" stroke-width="1.35"/>
<text x="351.4" y="405.7" font-size="8.5" text-anchor="middle">-7</text>
<line x1="380.4" y1="392.9" x2="380.4" y2="395.9" stroke="#1e1e1e" stroke-width="1.35"/>
<text x="380.4" y="405.7" font-size="8.5" text-anchor="middle">-6</text>
<line x1="409.4" y1="392.9" x2="409.4" y2="395.9" stroke="#1e1e1e" stroke-width="1.35"/>
<text x="409.4" y="405.7" font-size="8.5" text-anchor="middle">-5</text>
<line x1="438.4" y1="392.9" x2="438.4" y2="395.9" stroke="#1e1e1e" stroke-width="1.35"/>
<text x="438.4" y="405.7" font-size="8.5" text-anchor="middle">-4</text>
<text x="383.3" y="416.8" font-size="9.5" text-anchor="middle">Log (M)</text>
<text transform="translate(284.1 341.8) rotate(-90)" font-size="9.8" text-anchor="middle">% Control (DMSO)</text>
<path d="M336.9 322.04 L338.59 322.04 L340.28 322.05 L341.97 322.05 L343.67 322.06 L345.36 322.06 L347.05 322.08 L348.74 322.1 L350.43 322.12 L352.12 322.16 L353.82 322.21 L355.51 322.29 L357.2 322.4 L358.89 322.56 L360.58 322.78 L362.27 323.1 L363.97 323.55 L365.66 324.19 L367.35 325.08 L369.04 326.3 L370.73 327.96 L372.42 330.15 L374.12 332.96 L375.81 336.44 L377.5 340.54 L379.19 345.1 L380.88 349.88 L382.57 354.58 L384.27 358.9 L385.96 362.65 L387.65 365.75 L389.34 368.2 L391.03 370.07 L392.72 371.47 L394.42 372.49 L396.11 373.22 L397.8 373.75 L399.49 374.12 L401.18 374.38 L402.88 374.56 L404.57 374.69 L406.26 374.78 L407.95 374.84 L409.64 374.89 L411.33 374.92 L413.02 374.94 L414.72 374.95 L416.41 374.96 L418.1 374.97 L419.79 374.98 L421.48 374.98 L423.17 374.98 L424.87 374.98 L426.56 374.99 L428.25 374.99 L429.94 374.99 L431.63 374.99 L433.32 374.99 L435.02 374.99 L436.71 374.99 L438.4 374.99" fill="none" stroke="#a02828" stroke-width="1.3" stroke-linejoin="round"/>
<path d="M322.4 315.68 L323.85 316.12 L325.3 316.59 L326.75 317.09 L328.2 317.61 L329.65 318.16 L331.1 318.74 L332.55 319.36 L334 320 L335.45 320.68 L336.9 321.4 L338.35 322.14 L339.8 322.93 L341.25 323.75 L342.7 324.61 L344.15 325.5 L345.6 326.44 L347.05 327.41 L348.5 328.42 L349.95 329.48 L351.4 330.57 L352.85 331.7 L354.3 332.86 L355.75 334.07 L357.2 335.31 L358.65 336.58 L360.1 337.89 L361.55 339.23 L363 340.6 L364.45 341.99 L365.9 343.41 L367.35 344.86 L368.8 346.32 L370.25 347.8 L371.7 349.3 L373.15 350.8 L374.6 352.31 L376.05 353.83 L377.5 355.35 L378.95 356.86 L380.4 358.37 L381.85 359.87 L383.3 361.36 L384.75 362.83 L386.2 364.28 L387.65 365.71 L389.1 367.12 L390.55 368.5 L392 369.85 L393.45 371.17 L394.9 372.46 L396.35 373.71 L397.8 374.93 L399.25 376.11 L400.7 377.26 L402.15 378.36 L403.6 379.43 L405.05 380.46 L406.5 381.45 L407.95 382.4 L409.4 383.31" fill="none" stroke="#3050b0" stroke-width="1.3" stroke-linejoin="round"/>
<path d="M322.4 327.49 L323.85 327.49 L325.3 327.49 L326.75 327.49 L328.2 327.5 L329.65 327.5 L331.1 327.5 L332.55 327.5 L334 327.51 L335.45 327.51 L336.9 327.52 L338.35 327.53 L339.8 327.54 L341.25 327.55 L342.7 327.56 L344.15 327.58 L345.6 327.6 L347.05 327.62 L348.5 327.66 L349.95 327.7 L351.4 327.74 L352.85 327.8 L354.3 327.88 L355.75 327.97 L357.2 328.08 L358.65 328.22 L360.1 328.39 L361.55 328.6 L363 328.86 L364.45 329.18 L365.9 329.56 L367.35 330.03 L368.8 330.6 L370.25 331.29 L371.7 332.12 L373.15 333.12 L374.6 334.3 L376.05 335.7 L377.5 337.34 L378.95 339.24 L380.4 341.4 L381.85 343.84 L383.3 346.54 L384.75 349.48 L386.2 352.62 L387.65 355.89 L389.1 359.25 L390.55 362.6 L392 365.87 L393.45 369.01 L394.9 371.95 L396.35 374.65 L397.8 377.09 L399.25 379.25 L400.7 381.15 L402.15 382.79 L403.6 384.19 L405.05 385.37 L406.5 386.37 L407.95 387.2 L409.4 387.89" fill="none" stroke="#22905a" stroke-width="1.3" stroke-linejoin="round"/>
<path d="M322.4 327.08 L323.85 327.08 L325.3 327.08 L326.75 327.08 L328.2 327.08 L329.65 327.08 L331.1 327.08 L332.55 327.08 L334 327.08 L335.45 327.08 L336.9 327.08 L338.35 327.08 L339.8 327.08 L341.25 327.08 L342.7 327.08 L344.15 327.08 L345.6 327.08 L347.05 327.08 L348.5 327.08 L349.95 327.08 L351.4 327.08 L352.85 327.08 L354.3 327.09 L355.75 327.1 L357.2 327.11 L358.65 327.14 L360.1 327.19 L361.55 327.29 L363 327.47 L364.45 327.81 L365.9 328.43 L367.35 329.58 L368.8 331.63 L370.25 335.13 L371.7 340.68 L373.15 348.54 L374.6 358.02 L376.05 367.5 L377.5 375.35 L378.95 380.91 L380.4 384.41 L381.85 386.46 L383.3 387.6 L384.75 388.23 L386.2 388.57 L387.65 388.75 L389.1 388.85 L390.55 388.9 L392 388.93 L393.45 388.94 L394.9 388.95 L396.35 388.95 L397.8 388.96 L399.25 388.96 L400.7 388.96 L402.15 388.96 L403.6 388.96 L405.05 388.96 L406.5 388.96 L407.95 388.96 L409.4 388.96" fill="none" stroke="#f07a34" stroke-width="1.3" stroke-linejoin="round"/>
<circle cx="336.9" cy="321.15" r="2.16" fill="#a02828"/>
<line x1="351.4" y1="319.92" x2="351.4" y2="324.01" stroke="#a02828" stroke-width="1.1"/>
<line x1="349.4" y1="319.92" x2="353.4" y2="319.92" stroke="#a02828" stroke-width="1.1"/>
<line x1="349.4" y1="324.01" x2="353.4" y2="324.01" stroke="#a02828" stroke-width="1.1"/>
<circle cx="351.4" cy="321.97" r="2.16" fill="#a02828"/>
<line x1="365.9" y1="324.56" x2="365.9" y2="327.28" stroke="#a02828" stroke-width="1.1"/>
<line x1="363.9" y1="324.56" x2="367.9" y2="324.56" stroke="#a02828" stroke-width="1.1"/>
<line x1="363.9" y1="327.28" x2="367.9" y2="327.28" stroke="#a02828" stroke-width="1.1"/>
<circle cx="365.9" cy="325.92" r="2.16" fill="#a02828"/>
<line x1="380.4" y1="344.32" x2="380.4" y2="352.5" stroke="#a02828" stroke-width="1.1"/>
<line x1="378.4" y1="344.32" x2="382.4" y2="344.32" stroke="#a02828" stroke-width="1.1"/>
<line x1="378.4" y1="352.5" x2="382.4" y2="352.5" stroke="#a02828" stroke-width="1.1"/>
<circle cx="380.4" cy="348.41" r="2.16" fill="#a02828"/>
<line x1="394.9" y1="372.26" x2="394.9" y2="376.35" stroke="#a02828" stroke-width="1.1"/>
<line x1="392.9" y1="372.26" x2="396.9" y2="372.26" stroke="#a02828" stroke-width="1.1"/>
<line x1="392.9" y1="376.35" x2="396.9" y2="376.35" stroke="#a02828" stroke-width="1.1"/>
<circle cx="394.9" cy="374.31" r="2.16" fill="#a02828"/>
<line x1="409.4" y1="372.6" x2="409.4" y2="376.69" stroke="#a02828" stroke-width="1.1"/>
<line x1="407.4" y1="372.6" x2="411.4" y2="372.6" stroke="#a02828" stroke-width="1.1"/>
<line x1="407.4" y1="376.69" x2="411.4" y2="376.69" stroke="#a02828" stroke-width="1.1"/>
<circle cx="409.4" cy="374.65" r="2.16" fill="#a02828"/>
<line x1="423.9" y1="373.35" x2="423.9" y2="377.44" stroke="#a02828" stroke-width="1.1"/>
<line x1="421.9" y1="373.35" x2="425.9" y2="373.35" stroke="#a02828" stroke-width="1.1"/>
<line x1="421.9" y1="377.44" x2="425.9" y2="377.44" stroke="#a02828" stroke-width="1.1"/>
<circle cx="423.9" cy="375.4" r="2.16" fill="#a02828"/>
<line x1="438.4" y1="370.08" x2="438.4" y2="376.9" stroke="#a02828" stroke-width="1.1"/>
<line x1="436.4" y1="370.08" x2="440.4" y2="370.08" stroke="#a02828" stroke-width="1.1"/>
<line x1="436.4" y1="376.9" x2="440.4" y2="376.9" stroke="#a02828" stroke-width="1.1"/>
<circle cx="438.4" cy="373.49" r="2.16" fill="#a02828"/>
<line x1="322.4" y1="306.5" x2="322.4" y2="324.9" stroke="#3050b0" stroke-width="1.1"/>
<line x1="320.4" y1="306.5" x2="324.4" y2="306.5" stroke="#3050b0" stroke-width="1.1"/>
<line x1="320.4" y1="324.9" x2="324.4" y2="324.9" stroke="#3050b0" stroke-width="1.1"/>
<rect x="320.4" y="313.7" width="4" height="4" fill="#3050b0"/>
<line x1="351.4" y1="318.42" x2="351.4" y2="336.14" stroke="#3050b0" stroke-width="1.1"/>
<line x1="349.4" y1="318.42" x2="353.4" y2="318.42" stroke="#3050b0" stroke-width="1.1"/>
<line x1="349.4" y1="336.14" x2="353.4" y2="336.14" stroke="#3050b0" stroke-width="1.1"/>
<rect x="349.4" y="325.28" width="4" height="4" fill="#3050b0"/>
<line x1="380.4" y1="357.27" x2="380.4" y2="365.45" stroke="#3050b0" stroke-width="1.1"/>
<line x1="378.4" y1="357.27" x2="382.4" y2="357.27" stroke="#3050b0" stroke-width="1.1"/>
<line x1="378.4" y1="365.45" x2="382.4" y2="365.45" stroke="#3050b0" stroke-width="1.1"/>
<rect x="378.4" y="359.36" width="4" height="4" fill="#3050b0"/>
<line x1="409.4" y1="380.44" x2="409.4" y2="385.89" stroke="#3050b0" stroke-width="1.1"/>
<line x1="407.4" y1="380.44" x2="411.4" y2="380.44" stroke="#3050b0" stroke-width="1.1"/>
<line x1="407.4" y1="385.89" x2="411.4" y2="385.89" stroke="#3050b0" stroke-width="1.1"/>
<rect x="407.4" y="381.17" width="4" height="4" fill="#3050b0"/>
<line x1="322.4" y1="327.28" x2="322.4" y2="330.01" stroke="#22905a" stroke-width="1.1"/>
<line x1="320.4" y1="327.28" x2="324.4" y2="327.28" stroke="#22905a" stroke-width="1.1"/>
<line x1="320.4" y1="330.01" x2="324.4" y2="330.01" stroke="#22905a" stroke-width="1.1"/>
<path d="M322.4 326.35L324.8 330.55L320 330.55Z" fill="#22905a"/>
<line x1="351.4" y1="327.28" x2="351.4" y2="331.37" stroke="#22905a" stroke-width="1.1"/>
<line x1="349.4" y1="327.28" x2="353.4" y2="327.28" stroke="#22905a" stroke-width="1.1"/>
<line x1="349.4" y1="331.37" x2="353.4" y2="331.37" stroke="#22905a" stroke-width="1.1"/>
<path d="M351.4 327.03L353.8 331.23L349 331.23Z" fill="#22905a"/>
<line x1="380.4" y1="340.23" x2="380.4" y2="345.68" stroke="#22905a" stroke-width="1.1"/>
<line x1="378.4" y1="340.23" x2="382.4" y2="340.23" stroke="#22905a" stroke-width="1.1"/>
<line x1="378.4" y1="345.68" x2="382.4" y2="345.68" stroke="#22905a" stroke-width="1.1"/>
<path d="M380.4 340.66L382.8 344.86L378 344.86Z" fill="#22905a"/>
<line x1="394.9" y1="370.9" x2="394.9" y2="374.99" stroke="#22905a" stroke-width="1.1"/>
<line x1="392.9" y1="370.9" x2="396.9" y2="370.9" stroke="#22905a" stroke-width="1.1"/>
<line x1="392.9" y1="374.99" x2="396.9" y2="374.99" stroke="#22905a" stroke-width="1.1"/>
<path d="M394.9 370.64L397.3 374.84L392.5 374.84Z" fill="#22905a"/>
<line x1="409.4" y1="387.94" x2="409.4" y2="389.3" stroke="#22905a" stroke-width="1.1"/>
<line x1="407.4" y1="387.94" x2="411.4" y2="387.94" stroke="#22905a" stroke-width="1.1"/>
<line x1="407.4" y1="389.3" x2="411.4" y2="389.3" stroke="#22905a" stroke-width="1.1"/>
<path d="M409.4 386.32L411.8 390.52L407 390.52Z" fill="#22905a"/>
<path d="M336.9 317.32L339.3 313.12L334.5 313.12Z" fill="#f07a34"/>
<line x1="351.4" y1="323.19" x2="351.4" y2="327.28" stroke="#f07a34" stroke-width="1.1"/>
<line x1="349.4" y1="323.19" x2="353.4" y2="323.19" stroke="#f07a34" stroke-width="1.1"/>
<line x1="349.4" y1="327.28" x2="353.4" y2="327.28" stroke="#f07a34" stroke-width="1.1"/>
<path d="M351.4 327.54L353.8 323.34L349 323.34Z" fill="#f07a34"/>
<line x1="365.9" y1="324.56" x2="365.9" y2="327.28" stroke="#f07a34" stroke-width="1.1"/>
<line x1="363.9" y1="324.56" x2="367.9" y2="324.56" stroke="#f07a34" stroke-width="1.1"/>
<line x1="363.9" y1="327.28" x2="367.9" y2="327.28" stroke="#f07a34" stroke-width="1.1"/>
<path d="M365.9 328.22L368.3 324.02L363.5 324.02Z" fill="#f07a34"/>
<line x1="380.4" y1="376.35" x2="380.4" y2="385.89" stroke="#f07a34" stroke-width="1.1"/>
<line x1="378.4" y1="376.35" x2="382.4" y2="376.35" stroke="#f07a34" stroke-width="1.1"/>
<line x1="378.4" y1="385.89" x2="382.4" y2="385.89" stroke="#f07a34" stroke-width="1.1"/>
<path d="M380.4 383.42L382.8 379.22L378 379.22Z" fill="#f07a34"/>
<path d="M394.9 386.15L397.3 381.95L392.5 381.95Z" fill="#f07a34"/>
<line x1="387.9" y1="307.4" x2="398.8" y2="307.4" stroke="#a02828" stroke-width="1.3"/>
<circle cx="393.35" cy="307.4" r="1.84" fill="#a02828"/>
<text x="404.6" y="310.73" font-size="9.25">Jurkat LDK (0.8)</text>
<line x1="387.9" y1="319.6" x2="398.8" y2="319.6" stroke="#3050b0" stroke-width="1.3"/>
<rect x="391.65" y="317.9" width="3.4" height="3.4" fill="#3050b0"/>
<text x="404.6" y="322.93" font-size="9.25">PB T-Cell Akt Inh. IV (0.9)</text>
<line x1="387.9" y1="331.9" x2="398.8" y2="331.9" stroke="#22905a" stroke-width="1.3"/>
<path d="M393.35 329.94L395.39 333.51L391.31 333.51Z" fill="#22905a"/>
<text x="404.6" y="335.23" font-size="9.25">PB B-Cell Akt Inh. IV (2.1)</text>
<line x1="387.9" y1="344" x2="398.8" y2="344" stroke="#f07a34" stroke-width="1.3"/>
<path d="M393.35 345.95L395.39 342.38L391.31 342.38Z" fill="#f07a34"/>
<text x="404.6" y="347.33" font-size="9.25">Jurkat Akt Inh. IV (0.7)</text>
<line x1="32.3" y1="431.7" x2="32.3" y2="520.05" stroke="#1e1e1e" stroke-width="1.35"/>
<line x1="30.5" y1="519.4" x2="160.6" y2="519.4" stroke="#1e1e1e" stroke-width="1.35"/>
<line x1="29.3" y1="519.4" x2="32.3" y2="519.4" stroke="#1e1e1e" stroke-width="1.35"/>
<text x="28.3" y="521.7" font-size="8.5" text-anchor="end">0</text>
<line x1="29.3" y1="505.12" x2="32.3" y2="505.12" stroke="#1e1e1e" stroke-width="1.35"/>
<text x="28.3" y="507.42" font-size="8.5" text-anchor="end">20</text>
<line x1="29.3" y1="490.84" x2="32.3" y2="490.84" stroke="#1e1e1e" stroke-width="1.35"/>
<text x="28.3" y="493.14" font-size="8.5" text-anchor="end">40</text>
<line x1="29.3" y1="476.56" x2="32.3" y2="476.56" stroke="#1e1e1e" stroke-width="1.35"/>
<text x="28.3" y="478.86" font-size="8.5" text-anchor="end">60</text>
<line x1="29.3" y1="462.28" x2="32.3" y2="462.28" stroke="#1e1e1e" stroke-width="1.35"/>
<text x="28.3" y="464.58" font-size="8.5" text-anchor="end">80</text>
<line x1="29.3" y1="448" x2="32.3" y2="448" stroke="#1e1e1e" stroke-width="1.35"/>
<text x="28.3" y="450.3" font-size="8.5" text-anchor="end">100</text>
<line x1="29.3" y1="433.72" x2="32.3" y2="433.72" stroke="#1e1e1e" stroke-width="1.35"/>
<text x="28.3" y="436.02" font-size="8.5" text-anchor="end">120</text>
<line x1="32.3" y1="519.4" x2="32.3" y2="522.4" stroke="#1e1e1e" stroke-width="1.35"/>
<text x="32.3" y="531.2" font-size="8.5" text-anchor="middle">-8</text>
<line x1="61.25" y1="519.4" x2="61.25" y2="522.4" stroke="#1e1e1e" stroke-width="1.35"/>
<text x="61.25" y="531.2" font-size="8.5" text-anchor="middle">-7</text>
<line x1="90.2" y1="519.4" x2="90.2" y2="522.4" stroke="#1e1e1e" stroke-width="1.35"/>
<text x="90.2" y="531.2" font-size="8.5" text-anchor="middle">-6</text>
<line x1="119.15" y1="519.4" x2="119.15" y2="522.4" stroke="#1e1e1e" stroke-width="1.35"/>
<text x="119.15" y="531.2" font-size="8.5" text-anchor="middle">-5</text>
<line x1="148.1" y1="519.4" x2="148.1" y2="522.4" stroke="#1e1e1e" stroke-width="1.35"/>
<text x="148.1" y="531.2" font-size="8.5" text-anchor="middle">-4</text>
<text x="97.2" y="543.3" font-size="9.6" text-anchor="middle">LDK Log (M)</text>
<text transform="translate(9.4 474) rotate(-90)" font-size="9.2" text-anchor="middle">% Control (DMSO)</text>
<path d="M46.77 450.1 L48.46 450.11 L50.15 450.11 L51.84 450.12 L53.53 450.13 L55.22 450.14 L56.91 450.15 L58.6 450.16 L60.28 450.17 L61.97 450.19 L63.66 450.21 L65.35 450.23 L67.04 450.26 L68.73 450.29 L70.42 450.33 L72.11 450.37 L73.8 450.41 L75.48 450.47 L77.17 450.53 L78.86 450.61 L80.55 450.7 L82.24 450.8 L83.93 450.91 L85.62 451.05 L87.31 451.2 L88.99 451.38 L90.68 451.59 L92.37 451.84 L94.06 452.12 L95.75 452.44 L97.44 452.81 L99.13 453.23 L100.82 453.72 L102.5 454.29 L104.19 454.93 L105.88 455.66 L107.57 456.49 L109.26 457.44 L110.95 458.51 L112.64 459.71 L114.33 461.06 L116.01 462.56 L117.7 464.22 L119.39 466.06 L121.08 468.06 L122.77 470.24 L124.46 472.58 L126.15 475.07 L127.83 477.71 L129.52 480.47 L131.21 483.33 L132.9 486.25 L134.59 489.22 L136.28 492.18 L137.97 495.12 L139.66 497.99 L141.34 500.78 L143.03 503.45 L144.72 505.98 L146.41 508.35 L148.1 510.57" fill="none" stroke="#c2c23a" stroke-width="1.3" stroke-linejoin="round"/>
<path d="M46.77 454.3 L48.46 454.3 L50.15 454.31 L51.84 454.31 L53.53 454.33 L55.22 454.34 L56.91 454.36 L58.6 454.39 L60.28 454.44 L61.97 454.49 L63.66 454.57 L65.35 454.67 L67.04 454.81 L68.73 455.01 L70.42 455.27 L72.11 455.62 L73.8 456.09 L75.48 456.72 L77.17 457.56 L78.86 458.65 L80.55 460.05 L82.24 461.82 L83.93 464 L85.62 466.59 L87.31 469.57 L88.99 472.86 L90.68 476.32 L92.37 479.8 L94.06 483.11 L95.75 486.13 L97.44 488.78 L99.13 491 L100.82 492.81 L102.5 494.26 L104.19 495.38 L105.88 496.24 L107.57 496.89 L109.26 497.38 L110.95 497.75 L112.64 498.02 L114.33 498.22 L116.01 498.36 L117.7 498.47 L119.39 498.55 L121.08 498.61 L122.77 498.65 L124.46 498.68 L126.15 498.7 L127.83 498.72 L129.52 498.73 L131.21 498.74 L132.9 498.75 L134.59 498.75 L136.28 498.76 L137.97 498.76 L139.66 498.76 L141.34 498.76 L143.03 498.76 L144.72 498.76 L146.41 498.76 L148.1 498.76" fill="none" stroke="#7a2c96" stroke-width="1.3" stroke-linejoin="round"/>
<path d="M46.77 449.36 L48.46 449.36 L50.15 449.36 L51.84 449.36 L53.53 449.36 L55.22 449.36 L56.91 449.36 L58.6 449.36 L60.28 449.36 L61.97 449.36 L63.66 449.36 L65.35 449.37 L67.04 449.37 L68.73 449.39 L70.42 449.4 L72.11 449.44 L73.8 449.49 L75.48 449.58 L77.17 449.73 L78.86 449.97 L80.55 450.37 L82.24 451.02 L83.93 452.07 L85.62 453.74 L87.31 456.28 L88.99 459.99 L90.68 465.04 L92.37 471.27 L94.06 478.15 L95.75 484.82 L97.44 490.55 L99.13 494.98 L100.82 498.13 L102.5 500.24 L104.19 501.59 L105.88 502.44 L107.57 502.96 L109.26 503.28 L110.95 503.47 L112.64 503.59 L114.33 503.66 L116.01 503.7 L117.7 503.73 L119.39 503.74 L121.08 503.75 L122.77 503.76 L124.46 503.76 L126.15 503.76 L127.83 503.76 L129.52 503.76 L131.21 503.76 L132.9 503.76 L134.59 503.76 L136.28 503.76 L137.97 503.76 L139.66 503.76 L141.34 503.76 L143.03 503.76 L144.72 503.76 L146.41 503.76 L148.1 503.76" fill="none" stroke="#22906a" stroke-width="1.3" stroke-linejoin="round"/>
<path d="M46.77 453.93 L48.46 453.93 L50.15 453.93 L51.84 453.93 L53.53 453.93 L55.22 453.93 L56.91 453.93 L58.6 453.93 L60.28 453.93 L61.97 453.93 L63.66 453.93 L65.35 453.94 L67.04 453.94 L68.73 453.95 L70.42 453.96 L72.11 453.98 L73.8 454.01 L75.48 454.05 L77.17 454.11 L78.86 454.21 L80.55 454.35 L82.24 454.57 L83.93 454.89 L85.62 455.36 L87.31 456.05 L88.99 457.05 L90.68 458.43 L92.37 460.29 L94.06 462.68 L95.75 465.56 L97.44 468.78 L99.13 472.09 L100.82 475.23 L102.5 477.96 L104.19 480.19 L105.88 481.89 L107.57 483.14 L109.26 484.03 L110.95 484.65 L112.64 485.07 L114.33 485.35 L116.01 485.54 L117.7 485.67 L119.39 485.75 L121.08 485.81 L122.77 485.84 L124.46 485.87 L126.15 485.88 L127.83 485.89 L129.52 485.9 L131.21 485.9 L132.9 485.91 L134.59 485.91 L136.28 485.91 L137.97 485.91 L139.66 485.91 L141.34 485.91 L143.03 485.91 L144.72 485.91 L146.41 485.91 L148.1 485.91" fill="none" stroke="#34349e" stroke-width="1.3" stroke-linejoin="round"/>
<line x1="46.77" y1="448" x2="46.77" y2="453.71" stroke="#c2c23a" stroke-width="1.1"/>
<line x1="44.77" y1="448" x2="48.77" y2="448" stroke="#c2c23a" stroke-width="1.1"/>
<line x1="44.77" y1="453.71" x2="48.77" y2="453.71" stroke="#c2c23a" stroke-width="1.1"/>
<circle cx="46.77" cy="450.86" r="2.16" fill="#c2c23a"/>
<line x1="61.25" y1="444.43" x2="61.25" y2="454.43" stroke="#c2c23a" stroke-width="1.1"/>
<line x1="59.25" y1="444.43" x2="63.25" y2="444.43" stroke="#c2c23a" stroke-width="1.1"/>
<line x1="59.25" y1="454.43" x2="63.25" y2="454.43" stroke="#c2c23a" stroke-width="1.1"/>
<circle cx="61.25" cy="449.43" r="2.16" fill="#c2c23a"/>
<line x1="75.72" y1="445.14" x2="75.72" y2="453.71" stroke="#c2c23a" stroke-width="1.1"/>
<line x1="73.72" y1="445.14" x2="77.72" y2="445.14" stroke="#c2c23a" stroke-width="1.1"/>
<line x1="73.72" y1="453.71" x2="77.72" y2="453.71" stroke="#c2c23a" stroke-width="1.1"/>
<circle cx="75.72" cy="449.43" r="2.16" fill="#c2c23a"/>
<line x1="90.2" y1="448" x2="90.2" y2="453.71" stroke="#c2c23a" stroke-width="1.1"/>
<line x1="88.2" y1="448" x2="92.2" y2="448" stroke="#c2c23a" stroke-width="1.1"/>
<line x1="88.2" y1="453.71" x2="92.2" y2="453.71" stroke="#c2c23a" stroke-width="1.1"/>
<circle cx="90.2" cy="450.86" r="2.16" fill="#c2c23a"/>
<line x1="104.67" y1="451.57" x2="104.67" y2="457.28" stroke="#c2c23a" stroke-width="1.1"/>
<line x1="102.67" y1="451.57" x2="106.67" y2="451.57" stroke="#c2c23a" stroke-width="1.1"/>
<line x1="102.67" y1="457.28" x2="106.67" y2="457.28" stroke="#c2c23a" stroke-width="1.1"/>
<circle cx="104.67" cy="454.43" r="2.16" fill="#c2c23a"/>
<line x1="119.15" y1="464.42" x2="119.15" y2="468.71" stroke="#c2c23a" stroke-width="1.1"/>
<line x1="117.15" y1="464.42" x2="121.15" y2="464.42" stroke="#c2c23a" stroke-width="1.1"/>
<line x1="117.15" y1="468.71" x2="121.15" y2="468.71" stroke="#c2c23a" stroke-width="1.1"/>
<circle cx="119.15" cy="466.56" r="2.16" fill="#c2c23a"/>
<line x1="133.62" y1="472.99" x2="133.62" y2="491.55" stroke="#c2c23a" stroke-width="1.1"/>
<line x1="131.62" y1="472.99" x2="135.62" y2="472.99" stroke="#c2c23a" stroke-width="1.1"/>
<line x1="131.62" y1="491.55" x2="135.62" y2="491.55" stroke="#c2c23a" stroke-width="1.1"/>
<circle cx="133.62" cy="482.27" r="2.16" fill="#c2c23a"/>
<line x1="148.1" y1="509.4" x2="148.1" y2="513.69" stroke="#c2c23a" stroke-width="1.1"/>
<line x1="146.1" y1="509.4" x2="150.1" y2="509.4" stroke="#c2c23a" stroke-width="1.1"/>
<line x1="146.1" y1="513.69" x2="150.1" y2="513.69" stroke="#c2c23a" stroke-width="1.1"/>
<circle cx="148.1" cy="511.55" r="2.16" fill="#c2c23a"/>
<line x1="46.77" y1="452.28" x2="46.77" y2="460.85" stroke="#7a2c96" stroke-width="1.1"/>
<line x1="44.77" y1="452.28" x2="48.77" y2="452.28" stroke="#7a2c96" stroke-width="1.1"/>
<line x1="44.77" y1="460.85" x2="48.77" y2="460.85" stroke="#7a2c96" stroke-width="1.1"/>
<rect x="44.77" y="454.57" width="4" height="4" fill="#7a2c96"/>
<line x1="61.25" y1="447.29" x2="61.25" y2="462.99" stroke="#7a2c96" stroke-width="1.1"/>
<line x1="59.25" y1="447.29" x2="63.25" y2="447.29" stroke="#7a2c96" stroke-width="1.1"/>
<line x1="59.25" y1="462.99" x2="63.25" y2="462.99" stroke="#7a2c96" stroke-width="1.1"/>
<rect x="59.25" y="453.14" width="4" height="4" fill="#7a2c96"/>
<line x1="75.72" y1="453" x2="75.72" y2="461.57" stroke="#7a2c96" stroke-width="1.1"/>
<line x1="73.72" y1="453" x2="77.72" y2="453" stroke="#7a2c96" stroke-width="1.1"/>
<line x1="73.72" y1="461.57" x2="77.72" y2="461.57" stroke="#7a2c96" stroke-width="1.1"/>
<rect x="73.72" y="455.28" width="4" height="4" fill="#7a2c96"/>
<line x1="90.2" y1="469.42" x2="90.2" y2="480.84" stroke="#7a2c96" stroke-width="1.1"/>
<line x1="88.2" y1="469.42" x2="92.2" y2="469.42" stroke="#7a2c96" stroke-width="1.1"/>
<line x1="88.2" y1="480.84" x2="92.2" y2="480.84" stroke="#7a2c96" stroke-width="1.1"/>
<rect x="88.2" y="473.13" width="4" height="4" fill="#7a2c96"/>
<line x1="104.67" y1="491.55" x2="104.67" y2="498.69" stroke="#7a2c96" stroke-width="1.1"/>
<line x1="102.67" y1="491.55" x2="106.67" y2="491.55" stroke="#7a2c96" stroke-width="1.1"/>
<line x1="102.67" y1="498.69" x2="106.67" y2="498.69" stroke="#7a2c96" stroke-width="1.1"/>
<rect x="102.67" y="493.12" width="4" height="4" fill="#7a2c96"/>
<line x1="119.15" y1="498.69" x2="119.15" y2="504.41" stroke="#7a2c96" stroke-width="1.1"/>
<line x1="117.15" y1="498.69" x2="121.15" y2="498.69" stroke="#7a2c96" stroke-width="1.1"/>
<line x1="117.15" y1="504.41" x2="121.15" y2="504.41" stroke="#7a2c96" stroke-width="1.1"/>
<rect x="117.15" y="499.55" width="4" height="4" fill="#7a2c96"/>
<line x1="133.62" y1="495.12" x2="133.62" y2="502.26" stroke="#7a2c96" stroke-width="1.1"/>
<line x1="131.62" y1="495.12" x2="135.62" y2="495.12" stroke="#7a2c96" stroke-width="1.1"/>
<line x1="131.62" y1="502.26" x2="135.62" y2="502.26" stroke="#7a2c96" stroke-width="1.1"/>
<rect x="131.62" y="496.69" width="4" height="4" fill="#7a2c96"/>
<line x1="148.1" y1="494.41" x2="148.1" y2="502.98" stroke="#7a2c96" stroke-width="1.1"/>
<line x1="146.1" y1="494.41" x2="150.1" y2="494.41" stroke="#7a2c96" stroke-width="1.1"/>
<line x1="146.1" y1="502.98" x2="150.1" y2="502.98" stroke="#7a2c96" stroke-width="1.1"/>
<rect x="146.1" y="496.69" width="4" height="4" fill="#7a2c96"/>
<path d="M46.77 446.7L49.17 450.9L44.38 450.9Z" fill="#22906a"/>
<line x1="61.25" y1="445.14" x2="61.25" y2="453.71" stroke="#22906a" stroke-width="1.1"/>
<line x1="59.25" y1="445.14" x2="63.25" y2="445.14" stroke="#22906a" stroke-width="1.1"/>
<line x1="59.25" y1="453.71" x2="63.25" y2="453.71" stroke="#22906a" stroke-width="1.1"/>
<path d="M61.25 447.13L63.65 451.33L58.85 451.33Z" fill="#22906a"/>
<line x1="75.72" y1="440.86" x2="75.72" y2="450.86" stroke="#22906a" stroke-width="1.1"/>
<line x1="73.72" y1="440.86" x2="77.72" y2="440.86" stroke="#22906a" stroke-width="1.1"/>
<line x1="73.72" y1="450.86" x2="77.72" y2="450.86" stroke="#22906a" stroke-width="1.1"/>
<path d="M75.72 443.56L78.12 447.76L73.32 447.76Z" fill="#22906a"/>
<line x1="90.2" y1="458.71" x2="90.2" y2="465.85" stroke="#22906a" stroke-width="1.1"/>
<line x1="88.2" y1="458.71" x2="92.2" y2="458.71" stroke="#22906a" stroke-width="1.1"/>
<line x1="88.2" y1="465.85" x2="92.2" y2="465.85" stroke="#22906a" stroke-width="1.1"/>
<path d="M90.2 459.98L92.6 464.18L87.8 464.18Z" fill="#22906a"/>
<line x1="104.67" y1="486.56" x2="104.67" y2="497.98" stroke="#22906a" stroke-width="1.1"/>
<line x1="102.67" y1="486.56" x2="106.67" y2="486.56" stroke="#22906a" stroke-width="1.1"/>
<line x1="102.67" y1="497.98" x2="106.67" y2="497.98" stroke="#22906a" stroke-width="1.1"/>
<path d="M104.67 489.97L107.08 494.17L102.27 494.17Z" fill="#22906a"/>
<line x1="119.15" y1="500.84" x2="119.15" y2="506.55" stroke="#22906a" stroke-width="1.1"/>
<line x1="117.15" y1="500.84" x2="121.15" y2="500.84" stroke="#22906a" stroke-width="1.1"/>
<line x1="117.15" y1="506.55" x2="121.15" y2="506.55" stroke="#22906a" stroke-width="1.1"/>
<path d="M119.15 501.39L121.55 505.59L116.75 505.59Z" fill="#22906a"/>
<line x1="133.62" y1="487.98" x2="133.62" y2="499.41" stroke="#22906a" stroke-width="1.1"/>
<line x1="131.62" y1="487.98" x2="135.62" y2="487.98" stroke="#22906a" stroke-width="1.1"/>
<line x1="131.62" y1="499.41" x2="135.62" y2="499.41" stroke="#22906a" stroke-width="1.1"/>
<path d="M133.62 491.4L136.03 495.6L131.22 495.6Z" fill="#22906a"/>
<line x1="148.1" y1="500.84" x2="148.1" y2="506.55" stroke="#22906a" stroke-width="1.1"/>
<line x1="146.1" y1="500.84" x2="150.1" y2="500.84" stroke="#22906a" stroke-width="1.1"/>
<line x1="146.1" y1="506.55" x2="150.1" y2="506.55" stroke="#22906a" stroke-width="1.1"/>
<path d="M148.1 501.39L150.5 505.59L145.7 505.59Z" fill="#22906a"/>
<line x1="46.77" y1="450.86" x2="46.77" y2="456.57" stroke="#34349e" stroke-width="1.1"/>
<line x1="44.77" y1="450.86" x2="48.77" y2="450.86" stroke="#34349e" stroke-width="1.1"/>
<line x1="44.77" y1="456.57" x2="48.77" y2="456.57" stroke="#34349e" stroke-width="1.1"/>
<circle cx="46.77" cy="453.71" r="2.16" fill="#34349e"/>
<line x1="61.25" y1="448" x2="61.25" y2="459.42" stroke="#34349e" stroke-width="1.1"/>
<line x1="59.25" y1="448" x2="63.25" y2="448" stroke="#34349e" stroke-width="1.1"/>
<line x1="59.25" y1="459.42" x2="63.25" y2="459.42" stroke="#34349e" stroke-width="1.1"/>
<circle cx="61.25" cy="453.71" r="2.16" fill="#34349e"/>
<line x1="75.72" y1="450.14" x2="75.72" y2="458.71" stroke="#34349e" stroke-width="1.1"/>
<line x1="73.72" y1="450.14" x2="77.72" y2="450.14" stroke="#34349e" stroke-width="1.1"/>
<line x1="73.72" y1="458.71" x2="77.72" y2="458.71" stroke="#34349e" stroke-width="1.1"/>
<circle cx="75.72" cy="454.43" r="2.16" fill="#34349e"/>
<line x1="90.2" y1="453.71" x2="90.2" y2="462.28" stroke="#34349e" stroke-width="1.1"/>
<line x1="88.2" y1="453.71" x2="92.2" y2="453.71" stroke="#34349e" stroke-width="1.1"/>
<line x1="88.2" y1="462.28" x2="92.2" y2="462.28" stroke="#34349e" stroke-width="1.1"/>
<circle cx="90.2" cy="458" r="2.16" fill="#34349e"/>
<line x1="104.67" y1="476.56" x2="104.67" y2="486.56" stroke="#34349e" stroke-width="1.1"/>
<line x1="102.67" y1="476.56" x2="106.67" y2="476.56" stroke="#34349e" stroke-width="1.1"/>
<line x1="102.67" y1="486.56" x2="106.67" y2="486.56" stroke="#34349e" stroke-width="1.1"/>
<circle cx="104.67" cy="481.56" r="2.16" fill="#34349e"/>
<line x1="119.15" y1="485.84" x2="119.15" y2="495.84" stroke="#34349e" stroke-width="1.1"/>
<line x1="117.15" y1="485.84" x2="121.15" y2="485.84" stroke="#34349e" stroke-width="1.1"/>
<line x1="117.15" y1="495.84" x2="121.15" y2="495.84" stroke="#34349e" stroke-width="1.1"/>
<circle cx="119.15" cy="490.84" r="2.16" fill="#34349e"/>
<line x1="133.62" y1="480.13" x2="133.62" y2="491.55" stroke="#34349e" stroke-width="1.1"/>
<line x1="131.62" y1="480.13" x2="135.62" y2="480.13" stroke="#34349e" stroke-width="1.1"/>
<line x1="131.62" y1="491.55" x2="135.62" y2="491.55" stroke="#34349e" stroke-width="1.1"/>
<circle cx="133.62" cy="485.84" r="2.16" fill="#34349e"/>
<line x1="148.1" y1="480.84" x2="148.1" y2="495.12" stroke="#34349e" stroke-width="1.1"/>
<line x1="146.1" y1="480.84" x2="150.1" y2="480.84" stroke="#34349e" stroke-width="1.1"/>
<line x1="146.1" y1="495.12" x2="150.1" y2="495.12" stroke="#34349e" stroke-width="1.1"/>
<circle cx="148.1" cy="487.98" r="2.16" fill="#34349e"/>
<line x1="136.3" y1="438.4" x2="146" y2="438.4" stroke="#c2c23a" stroke-width="1.3"/>
<circle cx="141.15" cy="438.4" r="1.84" fill="#c2c23a"/>
<text x="151" y="441.75" font-size="9.3">RS4;11 (24.8)</text>
<line x1="136.3" y1="449.4" x2="146" y2="449.4" stroke="#7a2c96" stroke-width="1.3"/>
<rect x="139.45" y="447.7" width="3.4" height="3.4" fill="#7a2c96"/>
<text x="151" y="452.75" font-size="9.3">697 (1.1)</text>
<line x1="136.3" y1="460" x2="146" y2="460" stroke="#22906a" stroke-width="1.3"/>
<path d="M141.15 458.05L143.19 461.62L139.11 461.62Z" fill="#22906a"/>
<text x="151" y="463.35" font-size="9.3">Nalm-6 (1.4)</text>
<line x1="136.3" y1="470.6" x2="146" y2="470.6" stroke="#34349e" stroke-width="1.3"/>
<circle cx="141.15" cy="470.6" r="1.84" fill="#34349e"/>
<text x="151" y="473.95" font-size="9.3">Kasumi 2 (1.85)</text>
<line x1="309" y1="433.6" x2="309" y2="519.15" stroke="#1e1e1e" stroke-width="1.35"/>
<line x1="309" y1="518.5" x2="433.8" y2="518.5" stroke="#1e1e1e" stroke-width="1.35"/>
<line x1="306" y1="518.4" x2="309" y2="518.4" stroke="#1e1e1e" stroke-width="1.35"/>
<text x="305" y="520.7" font-size="8.5" text-anchor="end">0</text>
<line x1="306" y1="506.4" x2="309" y2="506.4" stroke="#1e1e1e" stroke-width="1.35"/>
<text x="305" y="508.7" font-size="8.5" text-anchor="end">20</text>
<line x1="306" y1="494.4" x2="309" y2="494.4" stroke="#1e1e1e" stroke-width="1.35"/>
<text x="305" y="496.7" font-size="8.5" text-anchor="end">40</text>
<line x1="306" y1="482.4" x2="309" y2="482.4" stroke="#1e1e1e" stroke-width="1.35"/>
<text x="305" y="484.7" font-size="8.5" text-anchor="end">60</text>
<line x1="306" y1="470.4" x2="309" y2="470.4" stroke="#1e1e1e" stroke-width="1.35"/>
<text x="305" y="472.7" font-size="8.5" text-anchor="end">80</text>
<line x1="306" y1="458.4" x2="309" y2="458.4" stroke="#1e1e1e" stroke-width="1.35"/>
<text x="305" y="460.7" font-size="8.5" text-anchor="end">100</text>
<line x1="306" y1="446.4" x2="309" y2="446.4" stroke="#1e1e1e" stroke-width="1.35"/>
<text x="305" y="448.7" font-size="8.5" text-anchor="end">120</text>
<line x1="306" y1="434.4" x2="309" y2="434.4" stroke="#1e1e1e" stroke-width="1.35"/>
<text x="305" y="436.7" font-size="8.5" text-anchor="end">140</text>
<line x1="308.5" y1="518.5" x2="308.5" y2="521.5" stroke="#1e1e1e" stroke-width="1.35"/>
<text x="308.5" y="531" font-size="8.5" text-anchor="middle">-8</text>
<line x1="336.4" y1="518.5" x2="336.4" y2="521.5" stroke="#1e1e1e" stroke-width="1.35"/>
<text x="336.4" y="531" font-size="8.5" text-anchor="middle">-7</text>
<line x1="364.3" y1="518.5" x2="364.3" y2="521.5" stroke="#1e1e1e" stroke-width="1.35"/>
<text x="364.3" y="531" font-size="8.5" text-anchor="middle">-6</text>
<line x1="392.2" y1="518.5" x2="392.2" y2="521.5" stroke="#1e1e1e" stroke-width="1.35"/>
<text x="392.2" y="531" font-size="8.5" text-anchor="middle">-5</text>
<line x1="420.1" y1="518.5" x2="420.1" y2="521.5" stroke="#1e1e1e" stroke-width="1.35"/>
<text x="420.1" y="531" font-size="8.5" text-anchor="middle">-4</text>
<text x="371.5" y="543.6" font-size="9.5" text-anchor="middle">LDK Log (M)</text>
<text transform="translate(285.9 474.6) rotate(-90)" font-size="9.2" text-anchor="middle">% Control (DMSO)</text>
<path d="M322.45 460.03 L324.08 460.04 L325.7 460.05 L327.33 460.06 L328.96 460.07 L330.59 460.09 L332.21 460.11 L333.84 460.15 L335.47 460.19 L337.1 460.26 L338.72 460.34 L340.35 460.46 L341.98 460.62 L343.61 460.84 L345.24 461.14 L346.86 461.54 L348.49 462.08 L350.12 462.79 L351.75 463.73 L353.37 464.95 L355 466.51 L356.63 468.46 L358.25 470.84 L359.88 473.64 L361.51 476.82 L363.14 480.27 L364.76 483.84 L366.39 487.37 L368.02 490.67 L369.65 493.65 L371.27 496.21 L372.9 498.34 L374.53 500.07 L376.16 501.43 L377.78 502.48 L379.41 503.28 L381.04 503.89 L382.67 504.34 L384.3 504.68 L385.92 504.93 L387.55 505.11 L389.18 505.25 L390.81 505.35 L392.43 505.42 L394.06 505.47 L395.69 505.51 L397.31 505.54 L398.94 505.56 L400.57 505.58 L402.2 505.59 L403.82 505.6 L405.45 505.6 L407.08 505.61 L408.71 505.61 L410.34 505.61 L411.96 505.62 L413.59 505.62 L415.22 505.62 L416.84 505.62 L418.47 505.62 L420.1 505.62" fill="none" stroke="#22905a" stroke-width="1.3" stroke-linejoin="round"/>
<path d="M364.3 452.7 L365.23 452.7 L366.16 452.7 L367.09 452.7 L368.02 452.7 L368.95 452.7 L369.88 452.7 L370.81 452.7 L371.74 452.7 L372.67 452.7 L373.6 452.7 L374.53 452.7 L375.46 452.7 L376.39 452.7 L377.32 452.7 L378.25 452.7 L379.18 452.7 L380.11 452.7 L381.04 452.7 L381.97 452.7 L382.9 452.7 L383.83 452.7 L384.76 452.7 L385.69 452.7 L386.62 452.7 L387.55 452.7 L388.48 452.7 L389.41 452.7 L390.34 452.7 L391.27 452.7 L392.2 452.7 L393.13 452.7 L394.06 452.7 L394.99 452.7 L395.92 452.7 L396.85 452.7 L397.78 452.7 L398.71 452.71 L399.64 452.74 L400.57 452.96 L401.5 454.43 L402.43 462.39 L403.36 482.66 L404.29 495.93 L405.22 498.94 L406.15 499.42 L407.08 499.49 L408.01 499.5 L408.94 499.5 L409.87 499.5 L410.8 499.5 L411.73 499.5 L412.66 499.5 L413.59 499.5 L414.52 499.5 L415.45 499.5 L416.38 499.5 L417.31 499.5 L418.24 499.5 L419.17 499.5 L420.1 499.5" fill="none" stroke="#283888" stroke-width="1.3" stroke-linejoin="round"/>
<path d="M364.3 457.24 L365.23 457.32 L366.16 457.4 L367.09 457.5 L368.02 457.61 L368.95 457.73 L369.88 457.86 L370.81 458.01 L371.74 458.18 L372.67 458.36 L373.6 458.57 L374.53 458.8 L375.46 459.05 L376.39 459.33 L377.32 459.64 L378.25 459.99 L379.18 460.37 L380.11 460.79 L381.04 461.25 L381.97 461.76 L382.9 462.32 L383.83 462.93 L384.76 463.59 L385.69 464.3 L386.62 465.08 L387.55 465.92 L388.48 466.81 L389.41 467.77 L390.34 468.79 L391.27 469.88 L392.2 471.02 L393.13 472.21 L394.06 473.45 L394.99 474.74 L395.92 476.07 L396.85 477.43 L397.78 478.81 L398.71 480.2 L399.64 481.6 L400.57 482.99 L401.5 484.37 L402.43 485.73 L403.36 487.06 L404.29 488.35 L405.22 489.59 L406.15 490.78 L407.08 491.92 L408.01 493.01 L408.94 494.03 L409.87 494.99 L410.8 495.88 L411.73 496.72 L412.66 497.5 L413.59 498.21 L414.52 498.87 L415.45 499.48 L416.38 500.04 L417.31 500.55 L418.24 501.01 L419.17 501.43 L420.1 501.81" fill="none" stroke="#72368a" stroke-width="1.3" stroke-linejoin="round"/>
<path d="M364.3 456.16 L365.23 456.19 L366.16 456.21 L367.09 456.25 L368.02 456.28 L368.95 456.32 L369.88 456.37 L370.81 456.43 L371.74 456.49 L372.67 456.56 L373.6 456.64 L374.53 456.74 L375.46 456.84 L376.39 456.97 L377.32 457.11 L378.25 457.27 L379.18 457.45 L380.11 457.66 L381.04 457.89 L381.97 458.16 L382.9 458.47 L383.83 458.81 L384.76 459.2 L385.69 459.65 L386.62 460.15 L387.55 460.71 L388.48 461.34 L389.41 462.04 L390.34 462.82 L391.27 463.69 L392.2 464.64 L393.13 465.69 L394.06 466.84 L394.99 468.09 L395.92 469.43 L396.85 470.87 L397.78 472.41 L398.71 474.03 L399.64 475.72 L400.57 477.48 L401.5 479.29 L402.43 481.14 L403.36 483 L404.29 484.86 L405.22 486.71 L406.15 488.52 L407.08 490.28 L408.01 491.97 L408.94 493.59 L409.87 495.13 L410.8 496.57 L411.73 497.91 L412.66 499.16 L413.59 500.31 L414.52 501.36 L415.45 502.31 L416.38 503.18 L417.31 503.96 L418.24 504.66 L419.17 505.29 L420.1 505.85" fill="none" stroke="#b8884c" stroke-width="1.3" stroke-linejoin="round"/>
<path d="M322.45 460.82L324.85 456.62L320.05 456.62Z" fill="#22905a"/>
<line x1="336.4" y1="459" x2="336.4" y2="462.6" stroke="#22905a" stroke-width="1.1"/>
<line x1="334.4" y1="459" x2="338.4" y2="459" stroke="#22905a" stroke-width="1.1"/>
<line x1="334.4" y1="462.6" x2="338.4" y2="462.6" stroke="#22905a" stroke-width="1.1"/>
<path d="M336.4 463.1L338.8 458.9L334 458.9Z" fill="#22905a"/>
<line x1="350.35" y1="461.7" x2="350.35" y2="465.3" stroke="#22905a" stroke-width="1.1"/>
<line x1="348.35" y1="461.7" x2="352.35" y2="461.7" stroke="#22905a" stroke-width="1.1"/>
<line x1="348.35" y1="465.3" x2="352.35" y2="465.3" stroke="#22905a" stroke-width="1.1"/>
<path d="M350.35 465.8L352.75 461.6L347.95 461.6Z" fill="#22905a"/>
<line x1="364.3" y1="475.5" x2="364.3" y2="489.9" stroke="#22905a" stroke-width="1.1"/>
<line x1="362.3" y1="475.5" x2="366.3" y2="475.5" stroke="#22905a" stroke-width="1.1"/>
<line x1="362.3" y1="489.9" x2="366.3" y2="489.9" stroke="#22905a" stroke-width="1.1"/>
<path d="M364.3 485L366.7 480.8L361.9 480.8Z" fill="#22905a"/>
<line x1="378.25" y1="501.72" x2="378.25" y2="505.32" stroke="#22905a" stroke-width="1.1"/>
<line x1="376.25" y1="501.72" x2="380.25" y2="501.72" stroke="#22905a" stroke-width="1.1"/>
<line x1="376.25" y1="505.32" x2="380.25" y2="505.32" stroke="#22905a" stroke-width="1.1"/>
<path d="M378.25 505.82L380.65 501.62L375.85 501.62Z" fill="#22905a"/>
<line x1="392.2" y1="503.22" x2="392.2" y2="506.82" stroke="#22905a" stroke-width="1.1"/>
<line x1="390.2" y1="503.22" x2="394.2" y2="503.22" stroke="#22905a" stroke-width="1.1"/>
<line x1="390.2" y1="506.82" x2="394.2" y2="506.82" stroke="#22905a" stroke-width="1.1"/>
<path d="M392.2 507.32L394.6 503.12L389.8 503.12Z" fill="#22905a"/>
<line x1="406.15" y1="503.52" x2="406.15" y2="507.12" stroke="#22905a" stroke-width="1.1"/>
<line x1="404.15" y1="503.52" x2="408.15" y2="503.52" stroke="#22905a" stroke-width="1.1"/>
<line x1="404.15" y1="507.12" x2="408.15" y2="507.12" stroke="#22905a" stroke-width="1.1"/>
<path d="M406.15 507.62L408.55 503.42L403.75 503.42Z" fill="#22905a"/>
<line x1="420.1" y1="504" x2="420.1" y2="507.6" stroke="#22905a" stroke-width="1.1"/>
<line x1="418.1" y1="504" x2="422.1" y2="504" stroke="#22905a" stroke-width="1.1"/>
<line x1="418.1" y1="507.6" x2="422.1" y2="507.6" stroke="#22905a" stroke-width="1.1"/>
<path d="M420.1 508.1L422.5 503.9L417.7 503.9Z" fill="#22905a"/>
<line x1="364.3" y1="453.6" x2="364.3" y2="463.2" stroke="#72368a" stroke-width="1.1"/>
<line x1="362.3" y1="453.6" x2="366.3" y2="453.6" stroke="#72368a" stroke-width="1.1"/>
<line x1="362.3" y1="463.2" x2="366.3" y2="463.2" stroke="#72368a" stroke-width="1.1"/>
<circle cx="364.3" cy="458.4" r="2.16" fill="#72368a"/>
<line x1="375.46" y1="448.8" x2="375.46" y2="463.2" stroke="#72368a" stroke-width="1.1"/>
<line x1="373.46" y1="448.8" x2="377.46" y2="448.8" stroke="#72368a" stroke-width="1.1"/>
<line x1="373.46" y1="463.2" x2="377.46" y2="463.2" stroke="#72368a" stroke-width="1.1"/>
<circle cx="375.46" cy="456" r="2.16" fill="#72368a"/>
<line x1="383.83" y1="454.2" x2="383.83" y2="468.6" stroke="#72368a" stroke-width="1.1"/>
<line x1="381.83" y1="454.2" x2="385.83" y2="454.2" stroke="#72368a" stroke-width="1.1"/>
<line x1="381.83" y1="468.6" x2="385.83" y2="468.6" stroke="#72368a" stroke-width="1.1"/>
<circle cx="383.83" cy="461.4" r="2.16" fill="#72368a"/>
<line x1="392.2" y1="465.6" x2="392.2" y2="480" stroke="#72368a" stroke-width="1.1"/>
<line x1="390.2" y1="465.6" x2="394.2" y2="465.6" stroke="#72368a" stroke-width="1.1"/>
<line x1="390.2" y1="480" x2="394.2" y2="480" stroke="#72368a" stroke-width="1.1"/>
<circle cx="392.2" cy="472.8" r="2.16" fill="#72368a"/>
<line x1="403.36" y1="466.8" x2="403.36" y2="476.4" stroke="#72368a" stroke-width="1.1"/>
<line x1="401.36" y1="466.8" x2="405.36" y2="466.8" stroke="#72368a" stroke-width="1.1"/>
<line x1="401.36" y1="476.4" x2="405.36" y2="476.4" stroke="#72368a" stroke-width="1.1"/>
<circle cx="403.36" cy="471.6" r="2.16" fill="#72368a"/>
<line x1="411.73" y1="496.8" x2="411.73" y2="511.2" stroke="#72368a" stroke-width="1.1"/>
<line x1="409.73" y1="496.8" x2="413.73" y2="496.8" stroke="#72368a" stroke-width="1.1"/>
<line x1="409.73" y1="511.2" x2="413.73" y2="511.2" stroke="#72368a" stroke-width="1.1"/>
<circle cx="411.73" cy="504" r="2.16" fill="#72368a"/>
<line x1="420.1" y1="498.6" x2="420.1" y2="504.6" stroke="#72368a" stroke-width="1.1"/>
<line x1="418.1" y1="498.6" x2="422.1" y2="498.6" stroke="#72368a" stroke-width="1.1"/>
<line x1="418.1" y1="504.6" x2="422.1" y2="504.6" stroke="#72368a" stroke-width="1.1"/>
<circle cx="420.1" cy="501.6" r="2.16" fill="#72368a"/>
<line x1="364.3" y1="453.6" x2="364.3" y2="460.8" stroke="#283888" stroke-width="1.1"/>
<line x1="362.3" y1="453.6" x2="366.3" y2="453.6" stroke="#283888" stroke-width="1.1"/>
<line x1="362.3" y1="460.8" x2="366.3" y2="460.8" stroke="#283888" stroke-width="1.1"/>
<circle cx="364.3" cy="457.2" r="2.16" fill="#283888"/>
<line x1="375.46" y1="451.38" x2="375.46" y2="458.58" stroke="#283888" stroke-width="1.1"/>
<line x1="373.46" y1="451.38" x2="377.46" y2="451.38" stroke="#283888" stroke-width="1.1"/>
<line x1="373.46" y1="458.58" x2="377.46" y2="458.58" stroke="#283888" stroke-width="1.1"/>
<circle cx="375.46" cy="454.98" r="2.16" fill="#283888"/>
<line x1="383.83" y1="435" x2="383.83" y2="454.2" stroke="#283888" stroke-width="1.1"/>
<line x1="381.83" y1="435" x2="385.83" y2="435" stroke="#283888" stroke-width="1.1"/>
<line x1="381.83" y1="454.2" x2="385.83" y2="454.2" stroke="#283888" stroke-width="1.1"/>
<circle cx="383.83" cy="444.6" r="2.16" fill="#283888"/>
<line x1="403.36" y1="468.6" x2="403.36" y2="475.8" stroke="#283888" stroke-width="1.1"/>
<line x1="401.36" y1="468.6" x2="405.36" y2="468.6" stroke="#283888" stroke-width="1.1"/>
<line x1="401.36" y1="475.8" x2="405.36" y2="475.8" stroke="#283888" stroke-width="1.1"/>
<circle cx="403.36" cy="472.2" r="2.16" fill="#283888"/>
<line x1="411.73" y1="497.1" x2="411.73" y2="501.9" stroke="#283888" stroke-width="1.1"/>
<line x1="409.73" y1="497.1" x2="413.73" y2="497.1" stroke="#283888" stroke-width="1.1"/>
<line x1="409.73" y1="501.9" x2="413.73" y2="501.9" stroke="#283888" stroke-width="1.1"/>
<circle cx="411.73" cy="499.5" r="2.16" fill="#283888"/>
<line x1="420.1" y1="496.38" x2="420.1" y2="501.18" stroke="#283888" stroke-width="1.1"/>
<line x1="418.1" y1="496.38" x2="422.1" y2="496.38" stroke="#283888" stroke-width="1.1"/>
<line x1="418.1" y1="501.18" x2="422.1" y2="501.18" stroke="#283888" stroke-width="1.1"/>
<circle cx="420.1" cy="498.78" r="2.16" fill="#283888"/>
<line x1="364.3" y1="448.2" x2="364.3" y2="460.2" stroke="#b8884c" stroke-width="1.1"/>
<line x1="362.3" y1="448.2" x2="366.3" y2="448.2" stroke="#b8884c" stroke-width="1.1"/>
<line x1="362.3" y1="460.2" x2="366.3" y2="460.2" stroke="#b8884c" stroke-width="1.1"/>
<rect x="362.3" y="452.2" width="4" height="4" fill="#b8884c"/>
<line x1="375.46" y1="447.6" x2="375.46" y2="459.6" stroke="#b8884c" stroke-width="1.1"/>
<line x1="373.46" y1="447.6" x2="377.46" y2="447.6" stroke="#b8884c" stroke-width="1.1"/>
<line x1="373.46" y1="459.6" x2="377.46" y2="459.6" stroke="#b8884c" stroke-width="1.1"/>
<rect x="373.46" y="451.6" width="4" height="4" fill="#b8884c"/>
<line x1="383.83" y1="452.4" x2="383.83" y2="464.4" stroke="#b8884c" stroke-width="1.1"/>
<line x1="381.83" y1="452.4" x2="385.83" y2="452.4" stroke="#b8884c" stroke-width="1.1"/>
<line x1="381.83" y1="464.4" x2="385.83" y2="464.4" stroke="#b8884c" stroke-width="1.1"/>
<rect x="381.83" y="456.4" width="4" height="4" fill="#b8884c"/>
<line x1="392.2" y1="460.2" x2="392.2" y2="469.8" stroke="#b8884c" stroke-width="1.1"/>
<line x1="390.2" y1="460.2" x2="394.2" y2="460.2" stroke="#b8884c" stroke-width="1.1"/>
<line x1="390.2" y1="469.8" x2="394.2" y2="469.8" stroke="#b8884c" stroke-width="1.1"/>
<rect x="390.2" y="463" width="4" height="4" fill="#b8884c"/>
<line x1="403.36" y1="475.2" x2="403.36" y2="487.2" stroke="#b8884c" stroke-width="1.1"/>
<line x1="401.36" y1="475.2" x2="405.36" y2="475.2" stroke="#b8884c" stroke-width="1.1"/>
<line x1="401.36" y1="487.2" x2="405.36" y2="487.2" stroke="#b8884c" stroke-width="1.1"/>
<rect x="401.36" y="479.2" width="4" height="4" fill="#b8884c"/>
<line x1="411.73" y1="494.4" x2="411.73" y2="506.4" stroke="#b8884c" stroke-width="1.1"/>
<line x1="409.73" y1="494.4" x2="413.73" y2="494.4" stroke="#b8884c" stroke-width="1.1"/>
<line x1="409.73" y1="506.4" x2="413.73" y2="506.4" stroke="#b8884c" stroke-width="1.1"/>
<rect x="409.73" y="498.4" width="4" height="4" fill="#b8884c"/>
<line x1="420.1" y1="499.2" x2="420.1" y2="511.2" stroke="#b8884c" stroke-width="1.1"/>
<line x1="418.1" y1="499.2" x2="422.1" y2="499.2" stroke="#b8884c" stroke-width="1.1"/>
<line x1="418.1" y1="511.2" x2="422.1" y2="511.2" stroke="#b8884c" stroke-width="1.1"/>
<rect x="418.1" y="503.2" width="4" height="4" fill="#b8884c"/>
<line x1="410.8" y1="440" x2="420" y2="440" stroke="#72368a" stroke-width="1.3"/>
<circle cx="415.4" cy="440" r="1.84" fill="#72368a"/>
<text x="425.5" y="443.28" font-size="9.1">U138 (23.9)</text>
<line x1="410.8" y1="449.8" x2="420" y2="449.8" stroke="#283888" stroke-width="1.3"/>
<circle cx="415.4" cy="449.8" r="1.84" fill="#283888"/>
<text x="425.5" y="453.08" font-size="9.1">Lox (25.4)</text>
<line x1="410.8" y1="460" x2="420" y2="460" stroke="#b8884c" stroke-width="1.3"/>
<rect x="413.7" y="458.3" width="3.4" height="3.4" fill="#b8884c"/>
<text x="425.5" y="463.28" font-size="9.1">SW480 (33.6)</text>
<line x1="410.8" y1="469.8" x2="420" y2="469.8" stroke="#22905a" stroke-width="1.3"/>
<path d="M415.4 471.75L417.44 468.19L413.36 468.19Z" fill="#22905a"/>
<text x="425.5" y="473.08" font-size="9.1">Jurkat (0.8)</text>
</svg>
</body></html>
